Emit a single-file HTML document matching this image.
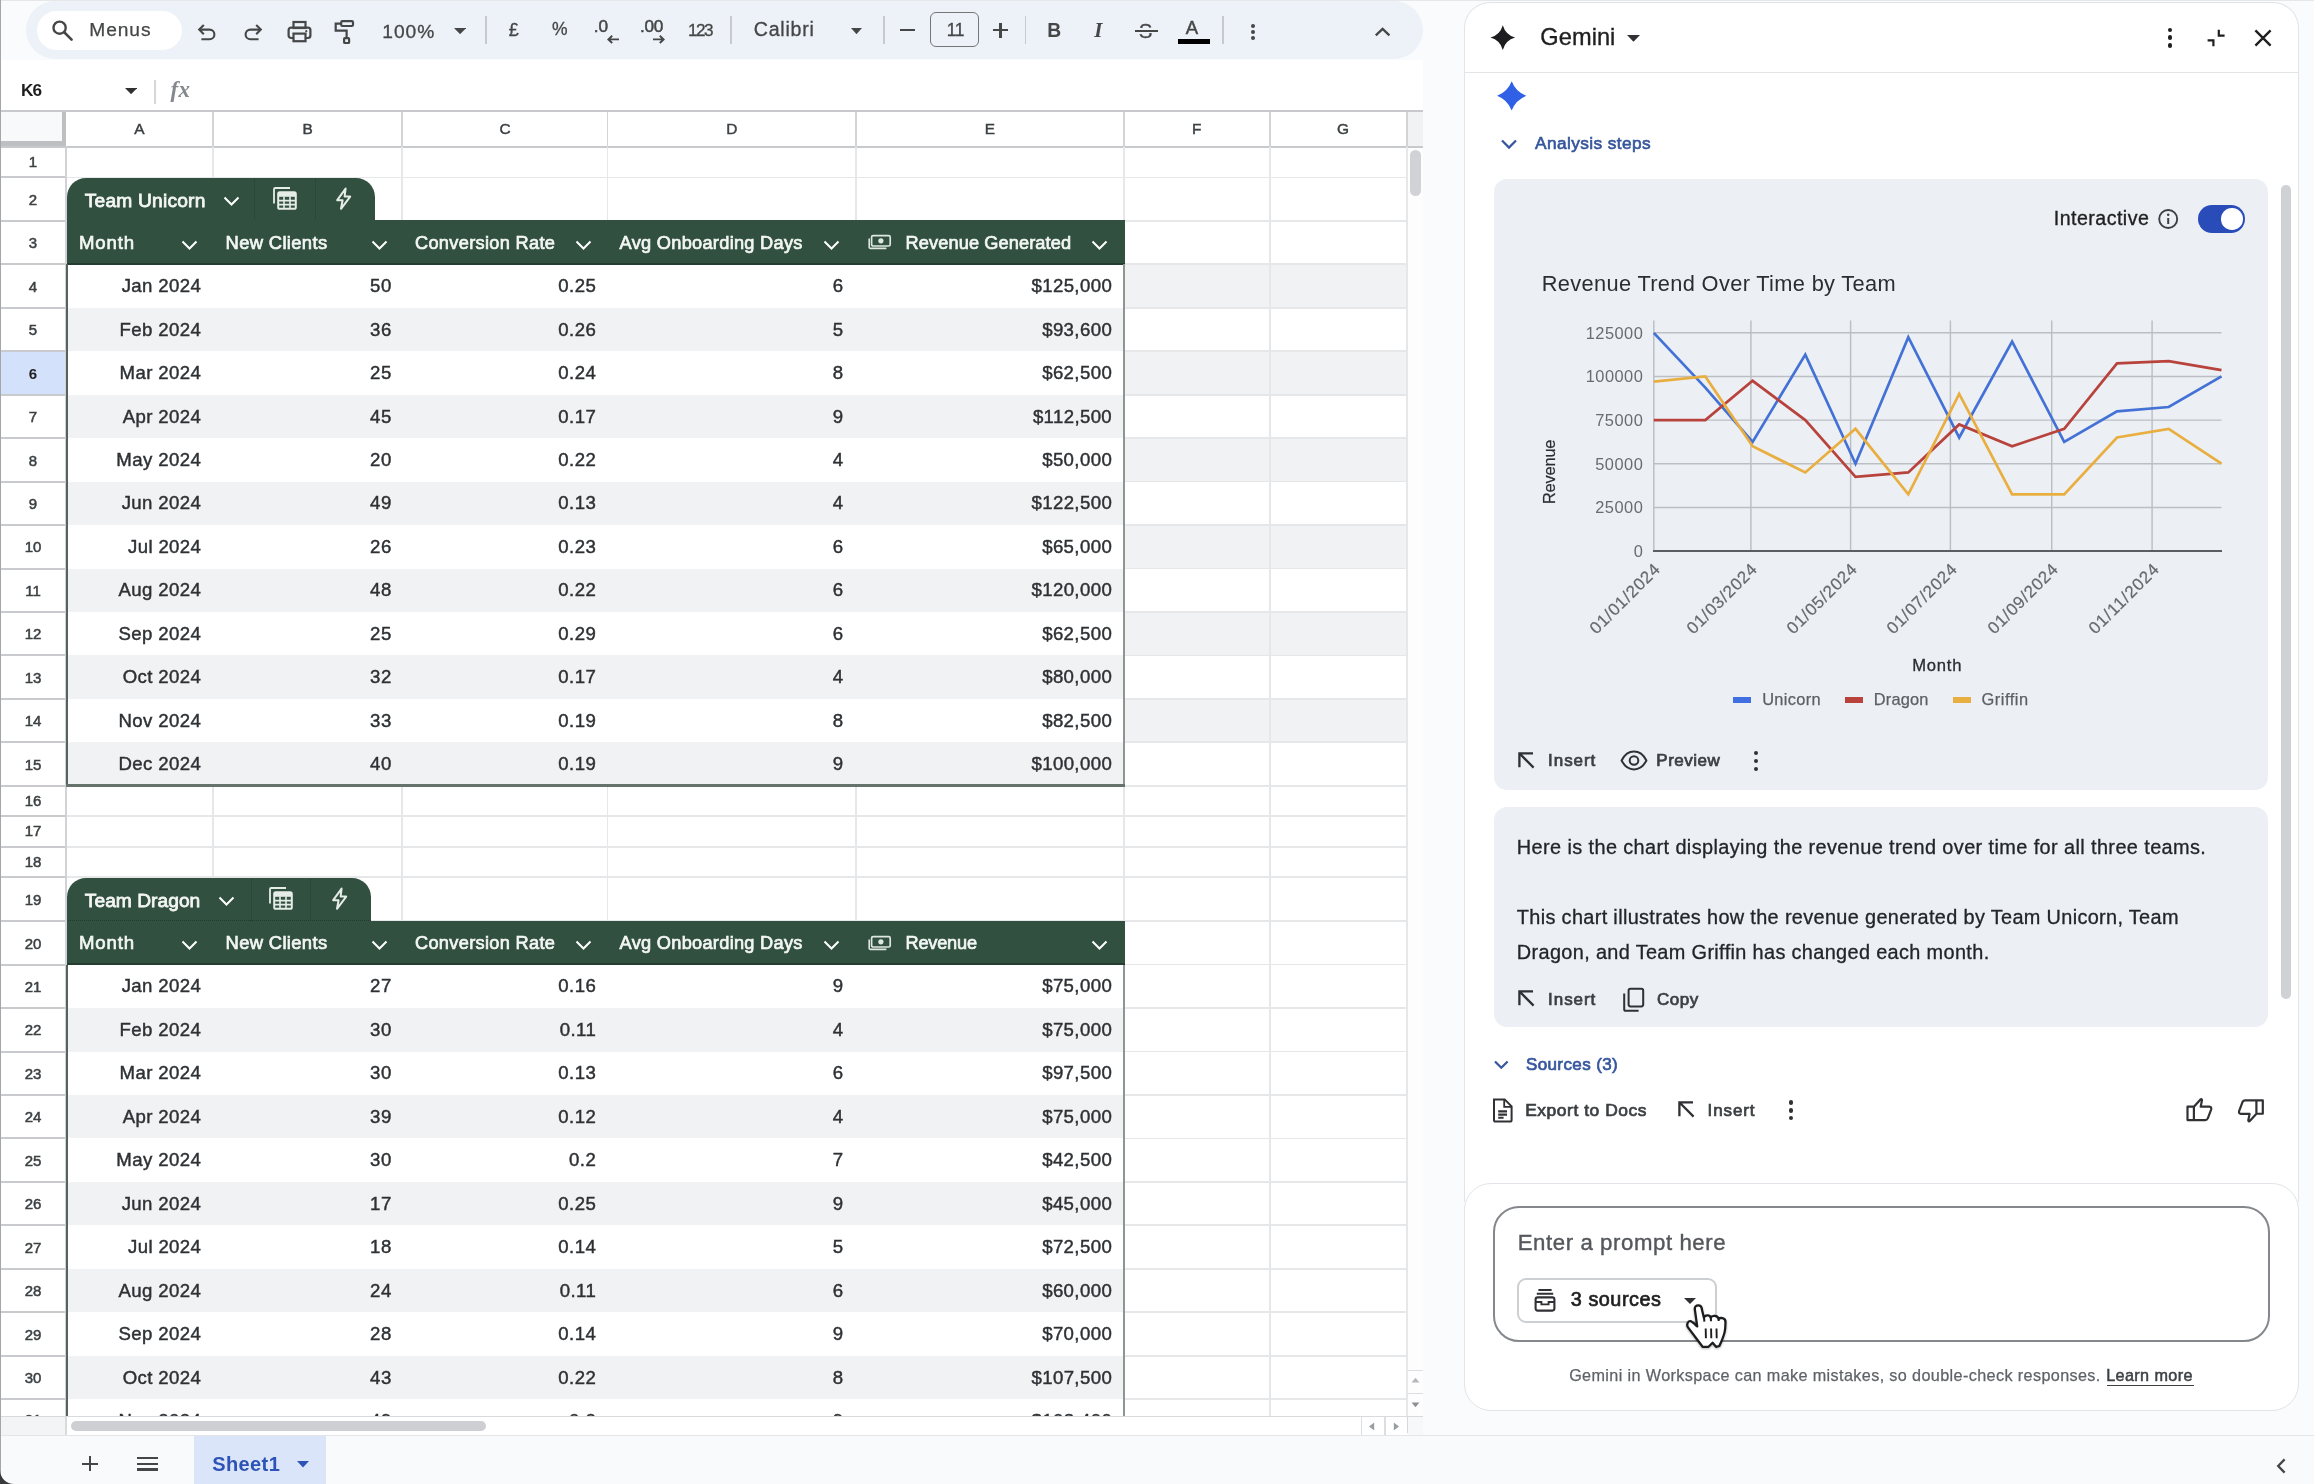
<!DOCTYPE html><html lang="en"><head><meta charset="utf-8"><title>Sheets with Gemini</title><style>html,body{margin:0;padding:0}body{width:2314px;height:1484px;overflow:hidden;position:relative;background:#fafbfc;font-family:"Liberation Sans",sans-serif}
#app{position:absolute;left:0;top:0;width:2314px;height:1484px;overflow:hidden;will-change:transform;transform:translateZ(0)}.b{position:absolute;display:block}.t{position:absolute;white-space:nowrap;display:block}</style></head><body><div id="app">
<div class="b" style="left:0.00px;top:0.00px;width:2314.00px;height:1484.00px;background:#fafbfc;"></div>
<div class="b" style="left:0.00px;top:60.00px;width:1423.00px;height:1356.00px;background:#ffffff;"></div>
<div class="b" style="left:0.00px;top:0.00px;width:2314.00px;height:1.20px;background:#e6e7e9;"></div>
<div class="b" style="left:26.00px;top:1.00px;width:1397.00px;height:58.00px;background:#edf1f8;border-radius:29px;"></div>
<div class="b" style="left:37.00px;top:10.50px;width:144.50px;height:39.50px;background:#ffffff;border-radius:20px;"></div>
<svg class="b" style="left:48.00px;top:16.00px;" width="30" height="30" viewBox="0 0 30 30"><circle cx="11.6" cy="11.7" r="6.1" fill="none" stroke="#444746" stroke-width="2.4"/><path d="M16.2 16.3 L23.6 23.6" stroke="#444746" stroke-width="2.6" stroke-linecap="round"/></svg>
<span class="t" style="left:89.23px;top:20.05px;font-size:19.20px;line-height:19.20px;color:#444746;letter-spacing:0.943px;-webkit-text-stroke:0.25px #444746;">Menus</span>
<svg class="b" style="left:195.00px;top:21.00px;" width="26" height="26" viewBox="0 0 26 26"><path d="M4.6 8.6 H14.6 a4.8 4.8 0 0 1 0 9.6 H6.4" fill="none" stroke="#444746" stroke-width="2.1"/><path d="M8.8 4 L4.2 8.6 L8.8 13.2" fill="none" stroke="#444746" stroke-width="2.1"/></svg>
<svg class="b" style="left:239.60px;top:21.00px;" width="26" height="26" viewBox="0 0 26 26"><path d="M20.4 8.6 H10.4 a4.8 4.8 0 0 0 0 9.6 H18.6" fill="none" stroke="#444746" stroke-width="2.1"/><path d="M16.2 4 L20.8 8.6 L16.2 13.2" fill="none" stroke="#444746" stroke-width="2.1"/></svg>
<svg class="b" style="left:286.00px;top:19.00px;" width="28" height="26" viewBox="0 0 28 26"><rect x="7.5" y="3" width="12" height="6" fill="none" stroke="#444746" stroke-width="2.2"/><rect x="2.6" y="8.6" width="21.8" height="10.4" rx="2.5" fill="none" stroke="#444746" stroke-width="2.2"/><rect x="7.5" y="14.6" width="12" height="7.6" fill="#edf1f8" stroke="#444746" stroke-width="2.2"/><circle cx="20.3" cy="12.2" r="1.1" fill="#444746"/></svg>
<svg class="b" style="left:331.00px;top:17.00px;" width="26" height="30" viewBox="0 0 26 30"><rect x="10.2" y="4.2" width="11.8" height="4.8" rx="1.2" fill="none" stroke="#444746" stroke-width="2.2"/><path d="M10 6.6 H4.7 V13.6 H15.6 V20.6" fill="none" stroke="#444746" stroke-width="2.2"/><rect x="13.1" y="21.2" width="5" height="4.8" rx="0.8" fill="none" stroke="#444746" stroke-width="2.2"/></svg>
<span class="t" style="left:382.23px;top:22.15px;font-size:19.20px;line-height:19.20px;color:#444746;letter-spacing:1.031px;-webkit-text-stroke:0.3px #444746;">100%</span>
<svg class="b" style="left:454.10px;top:27.60px;" width="12.2" height="6.2" viewBox="0 0 12.2 6.2"><path d="M0 0 H12.2 L6.1 6.2 Z" fill="#444746"/></svg>
<div class="b" style="left:484.90px;top:15.50px;width:1.80px;height:28.50px;background:#c7c9cc;"></div>
<span class="t" style="left:508.78px;top:21.06px;font-size:18.00px;line-height:18.00px;color:#444746;-webkit-text-stroke:0.3px #444746;">£</span>
<span class="t" style="left:552.00px;top:21.49px;font-size:17.50px;line-height:17.50px;color:#444746;-webkit-text-stroke:0.3px #444746;">%</span>
<span class="t" style="left:593.71px;top:18.24px;font-size:17.20px;line-height:17.20px;color:#444746;-webkit-text-stroke:0.5px #444746;">.0</span>
<svg class="b" style="left:606.00px;top:34.50px;" width="14" height="9" viewBox="0 0 14 9"><path d="M13 4.4 H2.5 M6.2 0.8 L2.4 4.4 L6.2 8" fill="none" stroke="#444746" stroke-width="1.9"/></svg>
<span class="t" style="left:639.91px;top:18.24px;font-size:17.20px;line-height:17.20px;color:#444746;letter-spacing:-0.205px;-webkit-text-stroke:0.5px #444746;">.00</span>
<svg class="b" style="left:652.00px;top:34.50px;" width="14" height="9" viewBox="0 0 14 9"><path d="M1 4.4 H11.5 M7.8 0.8 L11.6 4.4 L7.8 8" fill="none" stroke="#444746" stroke-width="1.9"/></svg>
<span class="t" style="left:687.91px;top:21.74px;font-size:17.20px;line-height:17.20px;color:#444746;letter-spacing:-1.549px;-webkit-text-stroke:0.3px #444746;">123</span>
<div class="b" style="left:730.10px;top:15.50px;width:1.80px;height:28.50px;background:#c7c9cc;"></div>
<span class="t" style="left:753.82px;top:19.71px;font-size:19.60px;line-height:19.60px;color:#444746;letter-spacing:0.742px;-webkit-text-stroke:0.3px #444746;">Calibri</span>
<svg class="b" style="left:851.00px;top:27.60px;" width="11" height="6.2" viewBox="0 0 11 6.2"><path d="M0 0 H11 L5.5 6.2 Z" fill="#444746"/></svg>
<div class="b" style="left:883.30px;top:15.50px;width:1.80px;height:28.50px;background:#c7c9cc;"></div>
<div class="b" style="left:899.80px;top:29.20px;width:15.50px;height:2.30px;background:#444746;"></div>
<div class="b" style="left:930.00px;top:12.40px;width:49.30px;height:34.30px;border:1.6px solid #747775;border-radius:6px;box-sizing:border-box;"></div>
<span class="t" style="left:946.80px;top:21.69px;font-size:17.50px;line-height:17.50px;color:#444746;letter-spacing:-0.567px;-webkit-text-stroke:0.3px #444746;">11</span>
<div class="b" style="left:993.10px;top:29.20px;width:14.80px;height:2.30px;background:#444746;"></div>
<div class="b" style="left:999.40px;top:22.90px;width:2.30px;height:14.80px;background:#444746;"></div>
<div class="b" style="left:1024.70px;top:15.50px;width:1.80px;height:28.50px;background:#c7c9cc;"></div>
<span class="t" style="left:1047.13px;top:20.86px;font-size:19.30px;line-height:19.30px;color:#444746;font-weight:700;">B</span>
<span class="t" style="left:1094.16px;top:19.62px;font-size:21.00px;line-height:21.00px;color:#444746;font-weight:700;font-style:italic;font-family:'Liberation Serif',serif;">I</span>
<span class="t" style="left:1138.68px;top:21.45px;font-size:20.50px;line-height:20.50px;color:#444746;-webkit-text-stroke:0.3px #444746;">S</span>
<div class="b" style="left:1134.50px;top:29.60px;width:23.40px;height:2.20px;background:#444746;"></div>
<div class="b" style="left:1139.00px;top:27.60px;width:15.00px;height:2.00px;background:#edf1f8;"></div>
<div class="b" style="left:1139.00px;top:31.80px;width:15.00px;height:1.60px;background:#edf1f8;"></div>
<span class="t" style="left:1185.86px;top:18.94px;font-size:18.50px;line-height:18.50px;color:#444746;-webkit-text-stroke:0.5px #444746;">A</span>
<div class="b" style="left:1177.70px;top:38.90px;width:32.80px;height:5.20px;background:#000000;"></div>
<div class="b" style="left:1222.20px;top:15.50px;width:1.80px;height:28.50px;background:#c7c9cc;"></div>
<div class="b" style="left:1250.80px;top:23.50px;width:4.20px;height:4.20px;background:#444746;border-radius:50%;"></div>
<div class="b" style="left:1250.80px;top:29.90px;width:4.20px;height:4.20px;background:#444746;border-radius:50%;"></div>
<div class="b" style="left:1250.80px;top:36.30px;width:4.20px;height:4.20px;background:#444746;border-radius:50%;"></div>
<svg class="b" style="left:1373.00px;top:26.00px;" width="20" height="12" viewBox="0 0 20 12"><path d="M2.8 9.4 L9.6 2.8 L16.4 9.4" fill="none" stroke="#444746" stroke-width="2.3"/></svg>
<span class="t" style="left:21.11px;top:81.94px;font-size:17.20px;line-height:17.20px;color:#1f1f1f;letter-spacing:-0.988px;font-weight:700;">K6</span>
<svg class="b" style="left:125.20px;top:87.90px;" width="12.2" height="6.2" viewBox="0 0 12.2 6.2"><path d="M0 0 H12.2 L6.1 6.2 Z" fill="#303030"/></svg>
<div class="b" style="left:154.40px;top:80.00px;width:1.80px;height:24.00px;background:#d5d7da;"></div>
<span class="t" style="left:170.58px;top:77.83px;font-size:23.00px;line-height:23.00px;color:#85888c;font-weight:700;font-style:italic;font-family:'Liberation Serif',serif;letter-spacing:0.3px;">fx</span>
<div class="b" style="left:0.00px;top:111.00px;width:1423.00px;height:36.00px;background:#ffffff;"></div>
<div class="b" style="left:1407.60px;top:111.50px;width:15.40px;height:35.00px;background:#f1f2f4;"></div>
<div class="b" style="left:0.00px;top:112.00px;width:66.00px;height:34.80px;background:#f8f9fa;"></div>
<div class="b" style="left:61.50px;top:112.00px;width:4.80px;height:35.00px;background:#bdbfc2;"></div>
<div class="b" style="left:0.00px;top:141.00px;width:66.30px;height:6.00px;background:#bdbfc2;"></div>
<div class="b" style="left:0.00px;top:110.20px;width:1423.00px;height:1.80px;background:#c7c9cc;"></div>
<div class="b" style="left:1124.00px;top:264.31px;width:282.80px;height:43.46px;background:#f0f2f4;"></div>
<div class="b" style="left:1124.00px;top:351.23px;width:282.80px;height:43.46px;background:#f0f2f4;"></div>
<div class="b" style="left:1124.00px;top:438.14px;width:282.80px;height:43.46px;background:#f0f2f4;"></div>
<div class="b" style="left:1124.00px;top:525.06px;width:282.80px;height:43.46px;background:#f0f2f4;"></div>
<div class="b" style="left:1124.00px;top:611.97px;width:282.80px;height:43.46px;background:#f0f2f4;"></div>
<div class="b" style="left:1124.00px;top:698.88px;width:282.80px;height:43.46px;background:#f0f2f4;"></div>
<div class="b" style="left:0.00px;top:351.23px;width:66.00px;height:43.46px;background:#d4e1fb;"></div>
<div class="b" style="left:0.00px;top:176.40px;width:66.00px;height:2.00px;background:#c8cacd;"></div>
<div class="b" style="left:66.00px;top:176.50px;width:1340.80px;height:1.80px;background:#e5e7e9;"></div>
<div class="b" style="left:0.00px;top:219.86px;width:66.00px;height:2.00px;background:#c8cacd;"></div>
<div class="b" style="left:66.00px;top:219.96px;width:1340.80px;height:1.80px;background:#e5e7e9;"></div>
<div class="b" style="left:0.00px;top:263.31px;width:66.00px;height:2.00px;background:#c8cacd;"></div>
<div class="b" style="left:66.00px;top:263.41px;width:1340.80px;height:1.80px;background:#e5e7e9;"></div>
<div class="b" style="left:0.00px;top:306.77px;width:66.00px;height:2.00px;background:#c8cacd;"></div>
<div class="b" style="left:66.00px;top:306.87px;width:1340.80px;height:1.80px;background:#e5e7e9;"></div>
<div class="b" style="left:0.00px;top:350.23px;width:66.00px;height:2.00px;background:#c8cacd;"></div>
<div class="b" style="left:66.00px;top:350.33px;width:1340.80px;height:1.80px;background:#e5e7e9;"></div>
<div class="b" style="left:0.00px;top:393.69px;width:66.00px;height:2.00px;background:#c8cacd;"></div>
<div class="b" style="left:66.00px;top:393.79px;width:1340.80px;height:1.80px;background:#e5e7e9;"></div>
<div class="b" style="left:0.00px;top:437.14px;width:66.00px;height:2.00px;background:#c8cacd;"></div>
<div class="b" style="left:66.00px;top:437.24px;width:1340.80px;height:1.80px;background:#e5e7e9;"></div>
<div class="b" style="left:0.00px;top:480.60px;width:66.00px;height:2.00px;background:#c8cacd;"></div>
<div class="b" style="left:66.00px;top:480.70px;width:1340.80px;height:1.80px;background:#e5e7e9;"></div>
<div class="b" style="left:0.00px;top:524.06px;width:66.00px;height:2.00px;background:#c8cacd;"></div>
<div class="b" style="left:66.00px;top:524.16px;width:1340.80px;height:1.80px;background:#e5e7e9;"></div>
<div class="b" style="left:0.00px;top:567.51px;width:66.00px;height:2.00px;background:#c8cacd;"></div>
<div class="b" style="left:66.00px;top:567.61px;width:1340.80px;height:1.80px;background:#e5e7e9;"></div>
<div class="b" style="left:0.00px;top:610.97px;width:66.00px;height:2.00px;background:#c8cacd;"></div>
<div class="b" style="left:66.00px;top:611.07px;width:1340.80px;height:1.80px;background:#e5e7e9;"></div>
<div class="b" style="left:0.00px;top:654.43px;width:66.00px;height:2.00px;background:#c8cacd;"></div>
<div class="b" style="left:66.00px;top:654.53px;width:1340.80px;height:1.80px;background:#e5e7e9;"></div>
<div class="b" style="left:0.00px;top:697.88px;width:66.00px;height:2.00px;background:#c8cacd;"></div>
<div class="b" style="left:66.00px;top:697.98px;width:1340.80px;height:1.80px;background:#e5e7e9;"></div>
<div class="b" style="left:0.00px;top:741.34px;width:66.00px;height:2.00px;background:#c8cacd;"></div>
<div class="b" style="left:66.00px;top:741.44px;width:1340.80px;height:1.80px;background:#e5e7e9;"></div>
<div class="b" style="left:0.00px;top:784.80px;width:66.00px;height:2.00px;background:#c8cacd;"></div>
<div class="b" style="left:66.00px;top:784.90px;width:1340.80px;height:1.80px;background:#e5e7e9;"></div>
<div class="b" style="left:0.00px;top:815.30px;width:66.00px;height:2.00px;background:#c8cacd;"></div>
<div class="b" style="left:66.00px;top:815.40px;width:1340.80px;height:1.80px;background:#e5e7e9;"></div>
<div class="b" style="left:0.00px;top:845.80px;width:66.00px;height:2.00px;background:#c8cacd;"></div>
<div class="b" style="left:66.00px;top:845.90px;width:1340.80px;height:1.80px;background:#e5e7e9;"></div>
<div class="b" style="left:0.00px;top:876.30px;width:66.00px;height:2.00px;background:#c8cacd;"></div>
<div class="b" style="left:66.00px;top:876.40px;width:1340.80px;height:1.80px;background:#e5e7e9;"></div>
<div class="b" style="left:0.00px;top:920.00px;width:66.00px;height:2.00px;background:#c8cacd;"></div>
<div class="b" style="left:66.00px;top:920.10px;width:1340.80px;height:1.80px;background:#e5e7e9;"></div>
<div class="b" style="left:0.00px;top:963.60px;width:66.00px;height:2.00px;background:#c8cacd;"></div>
<div class="b" style="left:66.00px;top:963.70px;width:1340.80px;height:1.80px;background:#e5e7e9;"></div>
<div class="b" style="left:0.00px;top:1007.06px;width:66.00px;height:2.00px;background:#c8cacd;"></div>
<div class="b" style="left:66.00px;top:1007.16px;width:1340.80px;height:1.80px;background:#e5e7e9;"></div>
<div class="b" style="left:0.00px;top:1050.51px;width:66.00px;height:2.00px;background:#c8cacd;"></div>
<div class="b" style="left:66.00px;top:1050.61px;width:1340.80px;height:1.80px;background:#e5e7e9;"></div>
<div class="b" style="left:0.00px;top:1093.97px;width:66.00px;height:2.00px;background:#c8cacd;"></div>
<div class="b" style="left:66.00px;top:1094.07px;width:1340.80px;height:1.80px;background:#e5e7e9;"></div>
<div class="b" style="left:0.00px;top:1137.43px;width:66.00px;height:2.00px;background:#c8cacd;"></div>
<div class="b" style="left:66.00px;top:1137.53px;width:1340.80px;height:1.80px;background:#e5e7e9;"></div>
<div class="b" style="left:0.00px;top:1180.89px;width:66.00px;height:2.00px;background:#c8cacd;"></div>
<div class="b" style="left:66.00px;top:1180.99px;width:1340.80px;height:1.80px;background:#e5e7e9;"></div>
<div class="b" style="left:0.00px;top:1224.34px;width:66.00px;height:2.00px;background:#c8cacd;"></div>
<div class="b" style="left:66.00px;top:1224.44px;width:1340.80px;height:1.80px;background:#e5e7e9;"></div>
<div class="b" style="left:0.00px;top:1267.80px;width:66.00px;height:2.00px;background:#c8cacd;"></div>
<div class="b" style="left:66.00px;top:1267.90px;width:1340.80px;height:1.80px;background:#e5e7e9;"></div>
<div class="b" style="left:0.00px;top:1311.26px;width:66.00px;height:2.00px;background:#c8cacd;"></div>
<div class="b" style="left:66.00px;top:1311.36px;width:1340.80px;height:1.80px;background:#e5e7e9;"></div>
<div class="b" style="left:0.00px;top:1354.71px;width:66.00px;height:2.00px;background:#c8cacd;"></div>
<div class="b" style="left:66.00px;top:1354.81px;width:1340.80px;height:1.80px;background:#e5e7e9;"></div>
<div class="b" style="left:0.00px;top:1398.17px;width:66.00px;height:2.00px;background:#c8cacd;"></div>
<div class="b" style="left:66.00px;top:1398.27px;width:1340.80px;height:1.80px;background:#e5e7e9;"></div>
<div class="b" style="left:0.00px;top:146.20px;width:1423.00px;height:1.80px;background:#c7c9cc;"></div>
<div class="b" style="left:65.10px;top:147.00px;width:1.80px;height:1269.50px;background:#d0d2d5;"></div>
<div class="b" style="left:211.90px;top:112.00px;width:1.80px;height:35.00px;background:#d2d4d7;"></div>
<div class="b" style="left:211.90px;top:147.00px;width:1.80px;height:1269.50px;background:#e5e7e9;"></div>
<div class="b" style="left:401.40px;top:112.00px;width:1.80px;height:35.00px;background:#d2d4d7;"></div>
<div class="b" style="left:401.40px;top:147.00px;width:1.80px;height:1269.50px;background:#e5e7e9;"></div>
<div class="b" style="left:606.70px;top:112.00px;width:1.80px;height:35.00px;background:#d2d4d7;"></div>
<div class="b" style="left:606.70px;top:147.00px;width:1.80px;height:1269.50px;background:#e5e7e9;"></div>
<div class="b" style="left:855.00px;top:112.00px;width:1.80px;height:35.00px;background:#d2d4d7;"></div>
<div class="b" style="left:855.00px;top:147.00px;width:1.80px;height:1269.50px;background:#e5e7e9;"></div>
<div class="b" style="left:1122.90px;top:112.00px;width:1.80px;height:35.00px;background:#d2d4d7;"></div>
<div class="b" style="left:1122.90px;top:147.00px;width:1.80px;height:1269.50px;background:#e5e7e9;"></div>
<div class="b" style="left:1268.80px;top:112.00px;width:1.80px;height:35.00px;background:#d2d4d7;"></div>
<div class="b" style="left:1268.80px;top:147.00px;width:1.80px;height:1269.50px;background:#e5e7e9;"></div>
<div class="b" style="left:1405.90px;top:112.00px;width:1.80px;height:35.00px;background:#d2d4d7;"></div>
<div class="b" style="left:1405.90px;top:147.00px;width:1.80px;height:1269.50px;background:#e5e7e9;"></div>
<span class="t" style="left:134.26px;top:121.36px;font-size:15.40px;line-height:15.40px;color:#3c4043;-webkit-text-stroke:0.45px #3c4043;">A</span>
<span class="t" style="left:302.41px;top:121.36px;font-size:15.40px;line-height:15.40px;color:#3c4043;-webkit-text-stroke:0.45px #3c4043;">B</span>
<span class="t" style="left:499.39px;top:121.36px;font-size:15.40px;line-height:15.40px;color:#3c4043;-webkit-text-stroke:0.45px #3c4043;">C</span>
<span class="t" style="left:726.19px;top:121.36px;font-size:15.40px;line-height:15.40px;color:#3c4043;-webkit-text-stroke:0.45px #3c4043;">D</span>
<span class="t" style="left:984.71px;top:121.36px;font-size:15.40px;line-height:15.40px;color:#3c4043;-webkit-text-stroke:0.45px #3c4043;">E</span>
<span class="t" style="left:1192.05px;top:121.36px;font-size:15.40px;line-height:15.40px;color:#3c4043;-webkit-text-stroke:0.45px #3c4043;">F</span>
<span class="t" style="left:1337.01px;top:121.36px;font-size:15.40px;line-height:15.40px;color:#3c4043;-webkit-text-stroke:0.45px #3c4043;">G</span>
<span class="t" style="left:28.83px;top:154.10px;font-size:15.00px;line-height:15.00px;color:#3c4043;-webkit-text-stroke:0.5px #3c4043;">1</span>
<span class="t" style="left:28.83px;top:191.83px;font-size:15.00px;line-height:15.00px;color:#3c4043;-webkit-text-stroke:0.5px #3c4043;">2</span>
<span class="t" style="left:28.83px;top:235.29px;font-size:15.00px;line-height:15.00px;color:#3c4043;-webkit-text-stroke:0.5px #3c4043;">3</span>
<span class="t" style="left:28.83px;top:278.75px;font-size:15.00px;line-height:15.00px;color:#3c4043;-webkit-text-stroke:0.5px #3c4043;">4</span>
<span class="t" style="left:28.83px;top:322.20px;font-size:15.00px;line-height:15.00px;color:#3c4043;-webkit-text-stroke:0.5px #3c4043;">5</span>
<span class="t" style="left:28.83px;top:365.66px;font-size:15.00px;line-height:15.00px;color:#1f1f1f;font-weight:700;">6</span>
<span class="t" style="left:28.83px;top:409.12px;font-size:15.00px;line-height:15.00px;color:#3c4043;-webkit-text-stroke:0.5px #3c4043;">7</span>
<span class="t" style="left:28.83px;top:452.57px;font-size:15.00px;line-height:15.00px;color:#3c4043;-webkit-text-stroke:0.5px #3c4043;">8</span>
<span class="t" style="left:28.83px;top:496.03px;font-size:15.00px;line-height:15.00px;color:#3c4043;-webkit-text-stroke:0.5px #3c4043;">9</span>
<span class="t" style="left:24.66px;top:539.49px;font-size:15.00px;line-height:15.00px;color:#3c4043;-webkit-text-stroke:0.5px #3c4043;">10</span>
<span class="t" style="left:25.21px;top:582.94px;font-size:15.00px;line-height:15.00px;color:#3c4043;-webkit-text-stroke:0.5px #3c4043;">11</span>
<span class="t" style="left:24.66px;top:626.40px;font-size:15.00px;line-height:15.00px;color:#3c4043;-webkit-text-stroke:0.5px #3c4043;">12</span>
<span class="t" style="left:24.66px;top:669.86px;font-size:15.00px;line-height:15.00px;color:#3c4043;-webkit-text-stroke:0.5px #3c4043;">13</span>
<span class="t" style="left:24.66px;top:713.31px;font-size:15.00px;line-height:15.00px;color:#3c4043;-webkit-text-stroke:0.5px #3c4043;">14</span>
<span class="t" style="left:24.66px;top:756.77px;font-size:15.00px;line-height:15.00px;color:#3c4043;-webkit-text-stroke:0.5px #3c4043;">15</span>
<span class="t" style="left:24.66px;top:792.95px;font-size:15.00px;line-height:15.00px;color:#3c4043;-webkit-text-stroke:0.5px #3c4043;">16</span>
<span class="t" style="left:24.66px;top:823.45px;font-size:15.00px;line-height:15.00px;color:#3c4043;-webkit-text-stroke:0.5px #3c4043;">17</span>
<span class="t" style="left:24.66px;top:853.95px;font-size:15.00px;line-height:15.00px;color:#3c4043;-webkit-text-stroke:0.5px #3c4043;">18</span>
<span class="t" style="left:24.66px;top:891.85px;font-size:15.00px;line-height:15.00px;color:#3c4043;-webkit-text-stroke:0.5px #3c4043;">19</span>
<span class="t" style="left:24.66px;top:935.50px;font-size:15.00px;line-height:15.00px;color:#3c4043;-webkit-text-stroke:0.5px #3c4043;">20</span>
<span class="t" style="left:24.66px;top:979.03px;font-size:15.00px;line-height:15.00px;color:#3c4043;-webkit-text-stroke:0.5px #3c4043;">21</span>
<span class="t" style="left:24.66px;top:1022.49px;font-size:15.00px;line-height:15.00px;color:#3c4043;-webkit-text-stroke:0.5px #3c4043;">22</span>
<span class="t" style="left:24.66px;top:1065.95px;font-size:15.00px;line-height:15.00px;color:#3c4043;-webkit-text-stroke:0.5px #3c4043;">23</span>
<span class="t" style="left:24.66px;top:1109.40px;font-size:15.00px;line-height:15.00px;color:#3c4043;-webkit-text-stroke:0.5px #3c4043;">24</span>
<span class="t" style="left:24.66px;top:1152.86px;font-size:15.00px;line-height:15.00px;color:#3c4043;-webkit-text-stroke:0.5px #3c4043;">25</span>
<span class="t" style="left:24.66px;top:1196.32px;font-size:15.00px;line-height:15.00px;color:#3c4043;-webkit-text-stroke:0.5px #3c4043;">26</span>
<span class="t" style="left:24.66px;top:1239.77px;font-size:15.00px;line-height:15.00px;color:#3c4043;-webkit-text-stroke:0.5px #3c4043;">27</span>
<span class="t" style="left:24.66px;top:1283.23px;font-size:15.00px;line-height:15.00px;color:#3c4043;-webkit-text-stroke:0.5px #3c4043;">28</span>
<span class="t" style="left:24.66px;top:1326.69px;font-size:15.00px;line-height:15.00px;color:#3c4043;-webkit-text-stroke:0.5px #3c4043;">29</span>
<span class="t" style="left:24.66px;top:1370.14px;font-size:15.00px;line-height:15.00px;color:#3c4043;-webkit-text-stroke:0.5px #3c4043;">30</span>
<span class="t" style="left:24.66px;top:1412.10px;font-size:15.00px;line-height:15.00px;color:#3c4043;-webkit-text-stroke:0.5px #3c4043;">31</span>
<div class="b" style="left:67.30px;top:178.00px;width:307.70px;height:44.46px;background:#31503f;border-radius:19px 19px 0 0;"></div>
<span class="t" style="left:84.83px;top:190.75px;font-size:19.20px;line-height:19.20px;color:#f3f6f4;letter-spacing:0.196px;-webkit-text-stroke:0.8px #f3f6f4;">Team Unicorn</span>
<svg class="b" style="left:222.70px;top:195.90px;" width="17" height="11" viewBox="0 0 17 11"><path d="M1.5 1.5 L8.5 8.5 L15.5 1.5" fill="none" stroke="#ffffff" stroke-width="2"/></svg>
<div class="b" style="left:253.80px;top:179.40px;width:1.40px;height:41.46px;border-left:1.4px dotted #26402f;"></div>
<div class="b" style="left:314.60px;top:179.40px;width:1.40px;height:41.46px;border-left:1.4px dotted #26402f;"></div>
<div class="b" style="left:68.00px;top:220.06px;width:307.00px;height:1.40px;border-top:1.5px dotted #223a2c;"></div>
<svg class="b" style="left:272.00px;top:186.40px;" width="26" height="25" viewBox="0 0 26 25"><path d="M2 17.5 V3.2 a1.2 1.2 0 0 1 1.2 -1.2 H18" fill="none" stroke="#e6ece8" stroke-width="1.8"/><rect x="6.2" y="6.2" width="17.6" height="16.6" rx="1.6" fill="none" stroke="#e6ece8" stroke-width="2"/><path d="M6.2 14.6 H23.8 M6.2 18.6 H23.8 M12 10.6 V22.8 M18 10.6 V22.8" stroke="#e6ece8" stroke-width="1.6" fill="none"/><rect x="6.2" y="6.2" width="17.6" height="4.6" fill="#e6ece8"/></svg>
<svg class="b" style="left:334.00px;top:187.40px;" width="20" height="24" viewBox="0 0 20 24"><path d="M11.6 1.6 L3.2 13.2 H8.6 L7 21.8 L16.2 9.6 H10.6 Z" fill="none" stroke="#e6ece8" stroke-width="2" stroke-linejoin="round"/></svg>
<div class="b" style="left:67.30px;top:220.36px;width:1057.30px;height:44.46px;background:#31503f;"></div>
<div class="b" style="left:67.30px;top:262.71px;width:1057.30px;height:2.20px;background:#243d30;"></div>
<span class="t" style="left:79.06px;top:233.61px;font-size:18.60px;line-height:18.60px;color:#f3f6f4;letter-spacing:0.826px;-webkit-text-stroke:0.7px #f3f6f4;">Month</span>
<svg class="b" style="left:180.80px;top:239.56px;" width="17" height="11" viewBox="0 0 17 11"><path d="M1.5 1.5 L8.5 8.5 L15.5 1.5" fill="none" stroke="#ffffff" stroke-width="2"/></svg>
<span class="t" style="left:225.56px;top:233.78px;font-size:18.40px;line-height:18.40px;color:#f3f6f4;letter-spacing:0.343px;-webkit-text-stroke:0.7px #f3f6f4;">New Clients</span>
<svg class="b" style="left:370.80px;top:239.56px;" width="17" height="11" viewBox="0 0 17 11"><path d="M1.5 1.5 L8.5 8.5 L15.5 1.5" fill="none" stroke="#ffffff" stroke-width="2"/></svg>
<span class="t" style="left:414.97px;top:233.95px;font-size:18.20px;line-height:18.20px;color:#f3f6f4;letter-spacing:0.317px;-webkit-text-stroke:0.7px #f3f6f4;">Conversion Rate</span>
<svg class="b" style="left:575.10px;top:239.56px;" width="17" height="11" viewBox="0 0 17 11"><path d="M1.5 1.5 L8.5 8.5 L15.5 1.5" fill="none" stroke="#ffffff" stroke-width="2"/></svg>
<span class="t" style="left:619.57px;top:233.95px;font-size:18.20px;line-height:18.20px;color:#f3f6f4;letter-spacing:0.293px;-webkit-text-stroke:0.7px #f3f6f4;">Avg Onboarding Days</span>
<svg class="b" style="left:822.70px;top:239.56px;" width="17" height="11" viewBox="0 0 17 11"><path d="M1.5 1.5 L8.5 8.5 L15.5 1.5" fill="none" stroke="#ffffff" stroke-width="2"/></svg>
<svg class="b" style="left:867.50px;top:234.36px;" width="24" height="16" viewBox="0 0 24 16"><rect x="3.6" y="1.6" width="18.6" height="10.4" rx="1.6" fill="none" stroke="#dfe7e2" stroke-width="1.7"/><path d="M1.2 4.6 V13.2 a1.2 1.2 0 0 0 1.2 1.2 H18.4" fill="none" stroke="#dfe7e2" stroke-width="1.6"/><circle cx="12.9" cy="6.8" r="2.6" fill="#dfe7e2"/></svg>
<span class="t" style="left:905.57px;top:233.95px;font-size:18.20px;line-height:18.20px;color:#f3f6f4;letter-spacing:0.105px;-webkit-text-stroke:0.7px #f3f6f4;">Revenue Generated</span>
<svg class="b" style="left:1091.40px;top:239.56px;" width="17" height="11" viewBox="0 0 17 11"><path d="M1.5 1.5 L8.5 8.5 L15.5 1.5" fill="none" stroke="#ffffff" stroke-width="2"/></svg>
<div class="b" style="left:68.20px;top:264.71px;width:1054.80px;height:43.46px;background:#ffffff;"></div>
<span class="t" style="left:121.64px;top:277.17px;font-size:18.60px;line-height:18.60px;color:#2e3134;letter-spacing:0.383px;-webkit-text-stroke:0.45px #2e3134;">Jan 2024</span>
<span class="t" style="left:370.04px;top:277.17px;font-size:18.60px;line-height:18.60px;color:#2e3134;letter-spacing:0.724px;-webkit-text-stroke:0.45px #2e3134;">50</span>
<span class="t" style="left:558.29px;top:277.17px;font-size:18.60px;line-height:18.60px;color:#2e3134;letter-spacing:0.422px;-webkit-text-stroke:0.45px #2e3134;">0.25</span>
<span class="t" style="left:832.81px;top:277.17px;font-size:18.60px;line-height:18.60px;color:#2e3134;-webkit-text-stroke:0.45px #2e3134;">6</span>
<span class="t" style="left:1031.46px;top:277.17px;font-size:18.60px;line-height:18.60px;color:#2e3134;letter-spacing:0.388px;-webkit-text-stroke:0.45px #2e3134;">$125,000</span>
<div class="b" style="left:68.20px;top:307.77px;width:1054.80px;height:43.46px;background:#f0f2f4;"></div>
<span class="t" style="left:119.51px;top:320.63px;font-size:18.60px;line-height:18.60px;color:#2e3134;letter-spacing:0.393px;-webkit-text-stroke:0.45px #2e3134;">Feb 2024</span>
<span class="t" style="left:370.04px;top:320.63px;font-size:18.60px;line-height:18.60px;color:#2e3134;letter-spacing:0.724px;-webkit-text-stroke:0.45px #2e3134;">36</span>
<span class="t" style="left:558.29px;top:320.63px;font-size:18.60px;line-height:18.60px;color:#2e3134;letter-spacing:0.422px;-webkit-text-stroke:0.45px #2e3134;">0.26</span>
<span class="t" style="left:832.81px;top:320.63px;font-size:18.60px;line-height:18.60px;color:#2e3134;-webkit-text-stroke:0.45px #2e3134;">5</span>
<span class="t" style="left:1042.17px;top:320.63px;font-size:18.60px;line-height:18.60px;color:#2e3134;letter-spacing:0.392px;-webkit-text-stroke:0.45px #2e3134;">$93,600</span>
<div class="b" style="left:68.20px;top:351.23px;width:1054.80px;height:43.46px;background:#ffffff;"></div>
<span class="t" style="left:119.53px;top:364.08px;font-size:18.60px;line-height:18.60px;color:#2e3134;letter-spacing:0.393px;-webkit-text-stroke:0.45px #2e3134;">Mar 2024</span>
<span class="t" style="left:370.04px;top:364.08px;font-size:18.60px;line-height:18.60px;color:#2e3134;letter-spacing:0.724px;-webkit-text-stroke:0.45px #2e3134;">25</span>
<span class="t" style="left:558.29px;top:364.08px;font-size:18.60px;line-height:18.60px;color:#2e3134;letter-spacing:0.422px;-webkit-text-stroke:0.45px #2e3134;">0.24</span>
<span class="t" style="left:832.81px;top:364.08px;font-size:18.60px;line-height:18.60px;color:#2e3134;-webkit-text-stroke:0.45px #2e3134;">8</span>
<span class="t" style="left:1042.17px;top:364.08px;font-size:18.60px;line-height:18.60px;color:#2e3134;letter-spacing:0.392px;-webkit-text-stroke:0.45px #2e3134;">$62,500</span>
<div class="b" style="left:68.20px;top:394.69px;width:1054.80px;height:43.46px;background:#f0f2f4;"></div>
<span class="t" style="left:122.72px;top:407.54px;font-size:18.60px;line-height:18.60px;color:#2e3134;letter-spacing:0.377px;-webkit-text-stroke:0.45px #2e3134;">Apr 2024</span>
<span class="t" style="left:370.04px;top:407.54px;font-size:18.60px;line-height:18.60px;color:#2e3134;letter-spacing:0.724px;-webkit-text-stroke:0.45px #2e3134;">45</span>
<span class="t" style="left:558.29px;top:407.54px;font-size:18.60px;line-height:18.60px;color:#2e3134;letter-spacing:0.422px;-webkit-text-stroke:0.45px #2e3134;">0.17</span>
<span class="t" style="left:832.81px;top:407.54px;font-size:18.60px;line-height:18.60px;color:#2e3134;-webkit-text-stroke:0.45px #2e3134;">9</span>
<span class="t" style="left:1032.89px;top:407.54px;font-size:18.60px;line-height:18.60px;color:#2e3134;letter-spacing:0.381px;-webkit-text-stroke:0.45px #2e3134;">$112,500</span>
<div class="b" style="left:68.20px;top:438.14px;width:1054.80px;height:43.46px;background:#ffffff;"></div>
<span class="t" style="left:116.31px;top:451.00px;font-size:18.60px;line-height:18.60px;color:#2e3134;letter-spacing:0.408px;-webkit-text-stroke:0.45px #2e3134;">May 2024</span>
<span class="t" style="left:370.04px;top:451.00px;font-size:18.60px;line-height:18.60px;color:#2e3134;letter-spacing:0.724px;-webkit-text-stroke:0.45px #2e3134;">20</span>
<span class="t" style="left:558.29px;top:451.00px;font-size:18.60px;line-height:18.60px;color:#2e3134;letter-spacing:0.422px;-webkit-text-stroke:0.45px #2e3134;">0.22</span>
<span class="t" style="left:832.81px;top:451.00px;font-size:18.60px;line-height:18.60px;color:#2e3134;-webkit-text-stroke:0.45px #2e3134;">4</span>
<span class="t" style="left:1042.17px;top:451.00px;font-size:18.60px;line-height:18.60px;color:#2e3134;letter-spacing:0.392px;-webkit-text-stroke:0.45px #2e3134;">$50,000</span>
<div class="b" style="left:68.20px;top:481.60px;width:1054.80px;height:43.46px;background:#f0f2f4;"></div>
<span class="t" style="left:121.64px;top:494.45px;font-size:18.60px;line-height:18.60px;color:#2e3134;letter-spacing:0.383px;-webkit-text-stroke:0.45px #2e3134;">Jun 2024</span>
<span class="t" style="left:370.04px;top:494.45px;font-size:18.60px;line-height:18.60px;color:#2e3134;letter-spacing:0.724px;-webkit-text-stroke:0.45px #2e3134;">49</span>
<span class="t" style="left:558.29px;top:494.45px;font-size:18.60px;line-height:18.60px;color:#2e3134;letter-spacing:0.422px;-webkit-text-stroke:0.45px #2e3134;">0.13</span>
<span class="t" style="left:832.81px;top:494.45px;font-size:18.60px;line-height:18.60px;color:#2e3134;-webkit-text-stroke:0.45px #2e3134;">4</span>
<span class="t" style="left:1031.46px;top:494.45px;font-size:18.60px;line-height:18.60px;color:#2e3134;letter-spacing:0.388px;-webkit-text-stroke:0.45px #2e3134;">$122,500</span>
<div class="b" style="left:68.20px;top:525.06px;width:1054.80px;height:43.46px;background:#ffffff;"></div>
<span class="t" style="left:128.07px;top:537.91px;font-size:18.60px;line-height:18.60px;color:#2e3134;letter-spacing:0.352px;-webkit-text-stroke:0.45px #2e3134;">Jul 2024</span>
<span class="t" style="left:370.04px;top:537.91px;font-size:18.60px;line-height:18.60px;color:#2e3134;letter-spacing:0.724px;-webkit-text-stroke:0.45px #2e3134;">26</span>
<span class="t" style="left:558.29px;top:537.91px;font-size:18.60px;line-height:18.60px;color:#2e3134;letter-spacing:0.422px;-webkit-text-stroke:0.45px #2e3134;">0.23</span>
<span class="t" style="left:832.81px;top:537.91px;font-size:18.60px;line-height:18.60px;color:#2e3134;-webkit-text-stroke:0.45px #2e3134;">6</span>
<span class="t" style="left:1042.17px;top:537.91px;font-size:18.60px;line-height:18.60px;color:#2e3134;letter-spacing:0.392px;-webkit-text-stroke:0.45px #2e3134;">$65,000</span>
<div class="b" style="left:68.20px;top:568.51px;width:1054.80px;height:43.46px;background:#f0f2f4;"></div>
<span class="t" style="left:118.43px;top:581.37px;font-size:18.60px;line-height:18.60px;color:#2e3134;letter-spacing:0.398px;-webkit-text-stroke:0.45px #2e3134;">Aug 2024</span>
<span class="t" style="left:370.04px;top:581.37px;font-size:18.60px;line-height:18.60px;color:#2e3134;letter-spacing:0.724px;-webkit-text-stroke:0.45px #2e3134;">48</span>
<span class="t" style="left:558.29px;top:581.37px;font-size:18.60px;line-height:18.60px;color:#2e3134;letter-spacing:0.422px;-webkit-text-stroke:0.45px #2e3134;">0.22</span>
<span class="t" style="left:832.81px;top:581.37px;font-size:18.60px;line-height:18.60px;color:#2e3134;-webkit-text-stroke:0.45px #2e3134;">6</span>
<span class="t" style="left:1031.46px;top:581.37px;font-size:18.60px;line-height:18.60px;color:#2e3134;letter-spacing:0.388px;-webkit-text-stroke:0.45px #2e3134;">$120,000</span>
<div class="b" style="left:68.20px;top:611.97px;width:1054.80px;height:43.46px;background:#ffffff;"></div>
<span class="t" style="left:118.43px;top:624.83px;font-size:18.60px;line-height:18.60px;color:#2e3134;letter-spacing:0.398px;-webkit-text-stroke:0.45px #2e3134;">Sep 2024</span>
<span class="t" style="left:370.04px;top:624.83px;font-size:18.60px;line-height:18.60px;color:#2e3134;letter-spacing:0.724px;-webkit-text-stroke:0.45px #2e3134;">25</span>
<span class="t" style="left:558.29px;top:624.83px;font-size:18.60px;line-height:18.60px;color:#2e3134;letter-spacing:0.422px;-webkit-text-stroke:0.45px #2e3134;">0.29</span>
<span class="t" style="left:832.81px;top:624.83px;font-size:18.60px;line-height:18.60px;color:#2e3134;-webkit-text-stroke:0.45px #2e3134;">6</span>
<span class="t" style="left:1042.17px;top:624.83px;font-size:18.60px;line-height:18.60px;color:#2e3134;letter-spacing:0.392px;-webkit-text-stroke:0.45px #2e3134;">$62,500</span>
<div class="b" style="left:68.20px;top:655.43px;width:1054.80px;height:43.46px;background:#f0f2f4;"></div>
<span class="t" style="left:122.74px;top:668.28px;font-size:18.60px;line-height:18.60px;color:#2e3134;letter-spacing:0.377px;-webkit-text-stroke:0.45px #2e3134;">Oct 2024</span>
<span class="t" style="left:370.04px;top:668.28px;font-size:18.60px;line-height:18.60px;color:#2e3134;letter-spacing:0.724px;-webkit-text-stroke:0.45px #2e3134;">32</span>
<span class="t" style="left:558.29px;top:668.28px;font-size:18.60px;line-height:18.60px;color:#2e3134;letter-spacing:0.422px;-webkit-text-stroke:0.45px #2e3134;">0.17</span>
<span class="t" style="left:832.81px;top:668.28px;font-size:18.60px;line-height:18.60px;color:#2e3134;-webkit-text-stroke:0.45px #2e3134;">4</span>
<span class="t" style="left:1042.17px;top:668.28px;font-size:18.60px;line-height:18.60px;color:#2e3134;letter-spacing:0.392px;-webkit-text-stroke:0.45px #2e3134;">$80,000</span>
<div class="b" style="left:68.20px;top:698.88px;width:1054.80px;height:43.46px;background:#ffffff;"></div>
<span class="t" style="left:118.45px;top:711.74px;font-size:18.60px;line-height:18.60px;color:#2e3134;letter-spacing:0.398px;-webkit-text-stroke:0.45px #2e3134;">Nov 2024</span>
<span class="t" style="left:370.04px;top:711.74px;font-size:18.60px;line-height:18.60px;color:#2e3134;letter-spacing:0.724px;-webkit-text-stroke:0.45px #2e3134;">33</span>
<span class="t" style="left:558.29px;top:711.74px;font-size:18.60px;line-height:18.60px;color:#2e3134;letter-spacing:0.422px;-webkit-text-stroke:0.45px #2e3134;">0.19</span>
<span class="t" style="left:832.81px;top:711.74px;font-size:18.60px;line-height:18.60px;color:#2e3134;-webkit-text-stroke:0.45px #2e3134;">8</span>
<span class="t" style="left:1042.17px;top:711.74px;font-size:18.60px;line-height:18.60px;color:#2e3134;letter-spacing:0.392px;-webkit-text-stroke:0.45px #2e3134;">$82,500</span>
<div class="b" style="left:68.20px;top:742.34px;width:1054.80px;height:43.46px;background:#f0f2f4;"></div>
<span class="t" style="left:118.45px;top:755.20px;font-size:18.60px;line-height:18.60px;color:#2e3134;letter-spacing:0.398px;-webkit-text-stroke:0.45px #2e3134;">Dec 2024</span>
<span class="t" style="left:370.04px;top:755.20px;font-size:18.60px;line-height:18.60px;color:#2e3134;letter-spacing:0.724px;-webkit-text-stroke:0.45px #2e3134;">40</span>
<span class="t" style="left:558.29px;top:755.20px;font-size:18.60px;line-height:18.60px;color:#2e3134;letter-spacing:0.422px;-webkit-text-stroke:0.45px #2e3134;">0.19</span>
<span class="t" style="left:832.81px;top:755.20px;font-size:18.60px;line-height:18.60px;color:#2e3134;-webkit-text-stroke:0.45px #2e3134;">9</span>
<span class="t" style="left:1031.46px;top:755.20px;font-size:18.60px;line-height:18.60px;color:#2e3134;letter-spacing:0.388px;-webkit-text-stroke:0.45px #2e3134;">$100,000</span>
<div class="b" style="left:66.40px;top:264.31px;width:2.00px;height:521.48px;background:#56635c;"></div>
<div class="b" style="left:1122.80px;top:264.31px;width:2.00px;height:521.48px;background:#8d9692;"></div>
<div class="b" style="left:66.40px;top:784.40px;width:1058.40px;height:2.20px;background:#66736c;"></div>
<div class="b" style="left:67.30px;top:877.90px;width:303.70px;height:44.70px;background:#31503f;border-radius:19px 19px 0 0;"></div>
<span class="t" style="left:84.83px;top:890.65px;font-size:19.20px;line-height:19.20px;color:#f3f6f4;letter-spacing:0.024px;-webkit-text-stroke:0.8px #f3f6f4;">Team Dragon</span>
<svg class="b" style="left:218.20px;top:895.80px;" width="17" height="11" viewBox="0 0 17 11"><path d="M1.5 1.5 L8.5 8.5 L15.5 1.5" fill="none" stroke="#ffffff" stroke-width="2"/></svg>
<div class="b" style="left:251.30px;top:879.30px;width:1.40px;height:41.70px;border-left:1.4px dotted #26402f;"></div>
<div class="b" style="left:309.80px;top:879.30px;width:1.40px;height:41.70px;border-left:1.4px dotted #26402f;"></div>
<div class="b" style="left:68.00px;top:920.20px;width:303.00px;height:1.40px;border-top:1.5px dotted #223a2c;"></div>
<svg class="b" style="left:268.00px;top:886.30px;" width="26" height="25" viewBox="0 0 26 25"><path d="M2 17.5 V3.2 a1.2 1.2 0 0 1 1.2 -1.2 H18" fill="none" stroke="#e6ece8" stroke-width="1.8"/><rect x="6.2" y="6.2" width="17.6" height="16.6" rx="1.6" fill="none" stroke="#e6ece8" stroke-width="2"/><path d="M6.2 14.6 H23.8 M6.2 18.6 H23.8 M12 10.6 V22.8 M18 10.6 V22.8" stroke="#e6ece8" stroke-width="1.6" fill="none"/><rect x="6.2" y="6.2" width="17.6" height="4.6" fill="#e6ece8"/></svg>
<svg class="b" style="left:330.00px;top:887.30px;" width="20" height="24" viewBox="0 0 20 24"><path d="M11.6 1.6 L3.2 13.2 H8.6 L7 21.8 L16.2 9.6 H10.6 Z" fill="none" stroke="#e6ece8" stroke-width="2" stroke-linejoin="round"/></svg>
<div class="b" style="left:67.30px;top:920.50px;width:1057.30px;height:44.60px;background:#31503f;"></div>
<div class="b" style="left:67.30px;top:963.00px;width:1057.30px;height:2.20px;background:#243d30;"></div>
<span class="t" style="left:79.06px;top:933.76px;font-size:18.60px;line-height:18.60px;color:#f3f6f4;letter-spacing:0.826px;-webkit-text-stroke:0.7px #f3f6f4;">Month</span>
<svg class="b" style="left:180.80px;top:939.70px;" width="17" height="11" viewBox="0 0 17 11"><path d="M1.5 1.5 L8.5 8.5 L15.5 1.5" fill="none" stroke="#ffffff" stroke-width="2"/></svg>
<span class="t" style="left:225.56px;top:933.92px;font-size:18.40px;line-height:18.40px;color:#f3f6f4;letter-spacing:0.343px;-webkit-text-stroke:0.7px #f3f6f4;">New Clients</span>
<svg class="b" style="left:370.80px;top:939.70px;" width="17" height="11" viewBox="0 0 17 11"><path d="M1.5 1.5 L8.5 8.5 L15.5 1.5" fill="none" stroke="#ffffff" stroke-width="2"/></svg>
<span class="t" style="left:414.97px;top:934.09px;font-size:18.20px;line-height:18.20px;color:#f3f6f4;letter-spacing:0.317px;-webkit-text-stroke:0.7px #f3f6f4;">Conversion Rate</span>
<svg class="b" style="left:575.10px;top:939.70px;" width="17" height="11" viewBox="0 0 17 11"><path d="M1.5 1.5 L8.5 8.5 L15.5 1.5" fill="none" stroke="#ffffff" stroke-width="2"/></svg>
<span class="t" style="left:619.57px;top:934.09px;font-size:18.20px;line-height:18.20px;color:#f3f6f4;letter-spacing:0.293px;-webkit-text-stroke:0.7px #f3f6f4;">Avg Onboarding Days</span>
<svg class="b" style="left:822.70px;top:939.70px;" width="17" height="11" viewBox="0 0 17 11"><path d="M1.5 1.5 L8.5 8.5 L15.5 1.5" fill="none" stroke="#ffffff" stroke-width="2"/></svg>
<svg class="b" style="left:867.50px;top:934.50px;" width="24" height="16" viewBox="0 0 24 16"><rect x="3.6" y="1.6" width="18.6" height="10.4" rx="1.6" fill="none" stroke="#dfe7e2" stroke-width="1.7"/><path d="M1.2 4.6 V13.2 a1.2 1.2 0 0 0 1.2 1.2 H18.4" fill="none" stroke="#dfe7e2" stroke-width="1.6"/><circle cx="12.9" cy="6.8" r="2.6" fill="#dfe7e2"/></svg>
<span class="t" style="left:905.57px;top:934.09px;font-size:18.20px;line-height:18.20px;color:#f3f6f4;letter-spacing:-0.226px;-webkit-text-stroke:0.7px #f3f6f4;">Revenue</span>
<svg class="b" style="left:1091.40px;top:939.70px;" width="17" height="11" viewBox="0 0 17 11"><path d="M1.5 1.5 L8.5 8.5 L15.5 1.5" fill="none" stroke="#ffffff" stroke-width="2"/></svg>
<div class="b" style="left:68.20px;top:965.00px;width:1054.80px;height:43.46px;background:#ffffff;"></div>
<span class="t" style="left:121.64px;top:977.46px;font-size:18.60px;line-height:18.60px;color:#2e3134;letter-spacing:0.383px;-webkit-text-stroke:0.45px #2e3134;">Jan 2024</span>
<span class="t" style="left:370.04px;top:977.46px;font-size:18.60px;line-height:18.60px;color:#2e3134;letter-spacing:0.724px;-webkit-text-stroke:0.45px #2e3134;">27</span>
<span class="t" style="left:558.29px;top:977.46px;font-size:18.60px;line-height:18.60px;color:#2e3134;letter-spacing:0.422px;-webkit-text-stroke:0.45px #2e3134;">0.16</span>
<span class="t" style="left:832.81px;top:977.46px;font-size:18.60px;line-height:18.60px;color:#2e3134;-webkit-text-stroke:0.45px #2e3134;">9</span>
<span class="t" style="left:1042.17px;top:977.46px;font-size:18.60px;line-height:18.60px;color:#2e3134;letter-spacing:0.392px;-webkit-text-stroke:0.45px #2e3134;">$75,000</span>
<div class="b" style="left:68.20px;top:1008.06px;width:1054.80px;height:43.46px;background:#f0f2f4;"></div>
<span class="t" style="left:119.51px;top:1020.91px;font-size:18.60px;line-height:18.60px;color:#2e3134;letter-spacing:0.393px;-webkit-text-stroke:0.45px #2e3134;">Feb 2024</span>
<span class="t" style="left:370.04px;top:1020.91px;font-size:18.60px;line-height:18.60px;color:#2e3134;letter-spacing:0.724px;-webkit-text-stroke:0.45px #2e3134;">30</span>
<span class="t" style="left:559.72px;top:1020.91px;font-size:18.60px;line-height:18.60px;color:#2e3134;letter-spacing:0.406px;-webkit-text-stroke:0.45px #2e3134;">0.11</span>
<span class="t" style="left:832.81px;top:1020.91px;font-size:18.60px;line-height:18.60px;color:#2e3134;-webkit-text-stroke:0.45px #2e3134;">4</span>
<span class="t" style="left:1042.17px;top:1020.91px;font-size:18.60px;line-height:18.60px;color:#2e3134;letter-spacing:0.392px;-webkit-text-stroke:0.45px #2e3134;">$75,000</span>
<div class="b" style="left:68.20px;top:1051.51px;width:1054.80px;height:43.46px;background:#ffffff;"></div>
<span class="t" style="left:119.53px;top:1064.37px;font-size:18.60px;line-height:18.60px;color:#2e3134;letter-spacing:0.393px;-webkit-text-stroke:0.45px #2e3134;">Mar 2024</span>
<span class="t" style="left:370.04px;top:1064.37px;font-size:18.60px;line-height:18.60px;color:#2e3134;letter-spacing:0.724px;-webkit-text-stroke:0.45px #2e3134;">30</span>
<span class="t" style="left:558.29px;top:1064.37px;font-size:18.60px;line-height:18.60px;color:#2e3134;letter-spacing:0.422px;-webkit-text-stroke:0.45px #2e3134;">0.13</span>
<span class="t" style="left:832.81px;top:1064.37px;font-size:18.60px;line-height:18.60px;color:#2e3134;-webkit-text-stroke:0.45px #2e3134;">6</span>
<span class="t" style="left:1042.17px;top:1064.37px;font-size:18.60px;line-height:18.60px;color:#2e3134;letter-spacing:0.392px;-webkit-text-stroke:0.45px #2e3134;">$97,500</span>
<div class="b" style="left:68.20px;top:1094.97px;width:1054.80px;height:43.46px;background:#f0f2f4;"></div>
<span class="t" style="left:122.72px;top:1107.83px;font-size:18.60px;line-height:18.60px;color:#2e3134;letter-spacing:0.377px;-webkit-text-stroke:0.45px #2e3134;">Apr 2024</span>
<span class="t" style="left:370.04px;top:1107.83px;font-size:18.60px;line-height:18.60px;color:#2e3134;letter-spacing:0.724px;-webkit-text-stroke:0.45px #2e3134;">39</span>
<span class="t" style="left:558.29px;top:1107.83px;font-size:18.60px;line-height:18.60px;color:#2e3134;letter-spacing:0.422px;-webkit-text-stroke:0.45px #2e3134;">0.12</span>
<span class="t" style="left:832.81px;top:1107.83px;font-size:18.60px;line-height:18.60px;color:#2e3134;-webkit-text-stroke:0.45px #2e3134;">4</span>
<span class="t" style="left:1042.17px;top:1107.83px;font-size:18.60px;line-height:18.60px;color:#2e3134;letter-spacing:0.392px;-webkit-text-stroke:0.45px #2e3134;">$75,000</span>
<div class="b" style="left:68.20px;top:1138.43px;width:1054.80px;height:43.46px;background:#ffffff;"></div>
<span class="t" style="left:116.31px;top:1151.28px;font-size:18.60px;line-height:18.60px;color:#2e3134;letter-spacing:0.408px;-webkit-text-stroke:0.45px #2e3134;">May 2024</span>
<span class="t" style="left:370.04px;top:1151.28px;font-size:18.60px;line-height:18.60px;color:#2e3134;letter-spacing:0.724px;-webkit-text-stroke:0.45px #2e3134;">30</span>
<span class="t" style="left:569.00px;top:1151.28px;font-size:18.60px;line-height:18.60px;color:#2e3134;letter-spacing:0.452px;-webkit-text-stroke:0.45px #2e3134;">0.2</span>
<span class="t" style="left:832.81px;top:1151.28px;font-size:18.60px;line-height:18.60px;color:#2e3134;-webkit-text-stroke:0.45px #2e3134;">7</span>
<span class="t" style="left:1042.17px;top:1151.28px;font-size:18.60px;line-height:18.60px;color:#2e3134;letter-spacing:0.392px;-webkit-text-stroke:0.45px #2e3134;">$42,500</span>
<div class="b" style="left:68.20px;top:1181.89px;width:1054.80px;height:43.46px;background:#f0f2f4;"></div>
<span class="t" style="left:121.64px;top:1194.74px;font-size:18.60px;line-height:18.60px;color:#2e3134;letter-spacing:0.383px;-webkit-text-stroke:0.45px #2e3134;">Jun 2024</span>
<span class="t" style="left:370.04px;top:1194.74px;font-size:18.60px;line-height:18.60px;color:#2e3134;letter-spacing:0.724px;-webkit-text-stroke:0.45px #2e3134;">17</span>
<span class="t" style="left:558.29px;top:1194.74px;font-size:18.60px;line-height:18.60px;color:#2e3134;letter-spacing:0.422px;-webkit-text-stroke:0.45px #2e3134;">0.25</span>
<span class="t" style="left:832.81px;top:1194.74px;font-size:18.60px;line-height:18.60px;color:#2e3134;-webkit-text-stroke:0.45px #2e3134;">9</span>
<span class="t" style="left:1042.17px;top:1194.74px;font-size:18.60px;line-height:18.60px;color:#2e3134;letter-spacing:0.392px;-webkit-text-stroke:0.45px #2e3134;">$45,000</span>
<div class="b" style="left:68.20px;top:1225.34px;width:1054.80px;height:43.46px;background:#ffffff;"></div>
<span class="t" style="left:128.07px;top:1238.20px;font-size:18.60px;line-height:18.60px;color:#2e3134;letter-spacing:0.352px;-webkit-text-stroke:0.45px #2e3134;">Jul 2024</span>
<span class="t" style="left:370.04px;top:1238.20px;font-size:18.60px;line-height:18.60px;color:#2e3134;letter-spacing:0.724px;-webkit-text-stroke:0.45px #2e3134;">18</span>
<span class="t" style="left:558.29px;top:1238.20px;font-size:18.60px;line-height:18.60px;color:#2e3134;letter-spacing:0.422px;-webkit-text-stroke:0.45px #2e3134;">0.14</span>
<span class="t" style="left:832.81px;top:1238.20px;font-size:18.60px;line-height:18.60px;color:#2e3134;-webkit-text-stroke:0.45px #2e3134;">5</span>
<span class="t" style="left:1042.17px;top:1238.20px;font-size:18.60px;line-height:18.60px;color:#2e3134;letter-spacing:0.392px;-webkit-text-stroke:0.45px #2e3134;">$72,500</span>
<div class="b" style="left:68.20px;top:1268.80px;width:1054.80px;height:43.46px;background:#f0f2f4;"></div>
<span class="t" style="left:118.43px;top:1281.65px;font-size:18.60px;line-height:18.60px;color:#2e3134;letter-spacing:0.398px;-webkit-text-stroke:0.45px #2e3134;">Aug 2024</span>
<span class="t" style="left:370.04px;top:1281.65px;font-size:18.60px;line-height:18.60px;color:#2e3134;letter-spacing:0.724px;-webkit-text-stroke:0.45px #2e3134;">24</span>
<span class="t" style="left:559.72px;top:1281.65px;font-size:18.60px;line-height:18.60px;color:#2e3134;letter-spacing:0.406px;-webkit-text-stroke:0.45px #2e3134;">0.11</span>
<span class="t" style="left:832.81px;top:1281.65px;font-size:18.60px;line-height:18.60px;color:#2e3134;-webkit-text-stroke:0.45px #2e3134;">6</span>
<span class="t" style="left:1042.17px;top:1281.65px;font-size:18.60px;line-height:18.60px;color:#2e3134;letter-spacing:0.392px;-webkit-text-stroke:0.45px #2e3134;">$60,000</span>
<div class="b" style="left:68.20px;top:1312.26px;width:1054.80px;height:43.46px;background:#ffffff;"></div>
<span class="t" style="left:118.43px;top:1325.11px;font-size:18.60px;line-height:18.60px;color:#2e3134;letter-spacing:0.398px;-webkit-text-stroke:0.45px #2e3134;">Sep 2024</span>
<span class="t" style="left:370.04px;top:1325.11px;font-size:18.60px;line-height:18.60px;color:#2e3134;letter-spacing:0.724px;-webkit-text-stroke:0.45px #2e3134;">28</span>
<span class="t" style="left:558.29px;top:1325.11px;font-size:18.60px;line-height:18.60px;color:#2e3134;letter-spacing:0.422px;-webkit-text-stroke:0.45px #2e3134;">0.14</span>
<span class="t" style="left:832.81px;top:1325.11px;font-size:18.60px;line-height:18.60px;color:#2e3134;-webkit-text-stroke:0.45px #2e3134;">9</span>
<span class="t" style="left:1042.17px;top:1325.11px;font-size:18.60px;line-height:18.60px;color:#2e3134;letter-spacing:0.392px;-webkit-text-stroke:0.45px #2e3134;">$70,000</span>
<div class="b" style="left:68.20px;top:1355.71px;width:1054.80px;height:43.46px;background:#f0f2f4;"></div>
<span class="t" style="left:122.74px;top:1368.57px;font-size:18.60px;line-height:18.60px;color:#2e3134;letter-spacing:0.377px;-webkit-text-stroke:0.45px #2e3134;">Oct 2024</span>
<span class="t" style="left:370.04px;top:1368.57px;font-size:18.60px;line-height:18.60px;color:#2e3134;letter-spacing:0.724px;-webkit-text-stroke:0.45px #2e3134;">43</span>
<span class="t" style="left:558.29px;top:1368.57px;font-size:18.60px;line-height:18.60px;color:#2e3134;letter-spacing:0.422px;-webkit-text-stroke:0.45px #2e3134;">0.22</span>
<span class="t" style="left:832.81px;top:1368.57px;font-size:18.60px;line-height:18.60px;color:#2e3134;-webkit-text-stroke:0.45px #2e3134;">8</span>
<span class="t" style="left:1031.46px;top:1368.57px;font-size:18.60px;line-height:18.60px;color:#2e3134;letter-spacing:0.388px;-webkit-text-stroke:0.45px #2e3134;">$107,500</span>
<div class="b" style="left:68.20px;top:1399.17px;width:1054.80px;height:17.33px;background:#ffffff;"></div>
<span class="t" style="left:118.45px;top:1412.03px;font-size:18.60px;line-height:18.60px;color:#2e3134;letter-spacing:0.398px;-webkit-text-stroke:0.45px #2e3134;">Nov 2024</span>
<span class="t" style="left:370.04px;top:1412.03px;font-size:18.60px;line-height:18.60px;color:#2e3134;letter-spacing:0.724px;-webkit-text-stroke:0.45px #2e3134;">49</span>
<span class="t" style="left:569.00px;top:1412.03px;font-size:18.60px;line-height:18.60px;color:#2e3134;letter-spacing:0.452px;-webkit-text-stroke:0.45px #2e3134;">0.2</span>
<span class="t" style="left:832.81px;top:1412.03px;font-size:18.60px;line-height:18.60px;color:#2e3134;-webkit-text-stroke:0.45px #2e3134;">9</span>
<span class="t" style="left:1031.46px;top:1412.03px;font-size:18.60px;line-height:18.60px;color:#2e3134;letter-spacing:0.388px;-webkit-text-stroke:0.45px #2e3134;">$108,400</span>
<div class="b" style="left:66.40px;top:964.60px;width:2.00px;height:451.90px;background:#56635c;"></div>
<div class="b" style="left:1122.80px;top:964.60px;width:2.00px;height:451.90px;background:#8d9692;"></div>
<div class="b" style="left:1407.70px;top:147.90px;width:15.30px;height:1268.00px;background:#fdfdfd;"></div>
<div class="b" style="left:1409.80px;top:150.00px;width:11.20px;height:45.50px;background:#d0d2d5;border-radius:5.6px;"></div>
<div class="b" style="left:1407.70px;top:1370.00px;width:15.30px;height:1.40px;background:#dcdee1;"></div>
<div class="b" style="left:1407.70px;top:1393.00px;width:15.30px;height:1.40px;background:#dcdee1;"></div>
<svg class="b" style="left:1410.80px;top:1377.00px;" width="9" height="6" viewBox="0 0 9 6"><path d="M0.6 5.4 L4.5 0.8 L8.4 5.4 Z" fill="#b4b7ba"/></svg>
<svg class="b" style="left:1410.80px;top:1401.50px;" width="9" height="6" viewBox="0 0 9 6"><path d="M0.6 0.6 L4.5 5.2 L8.4 0.6 Z" fill="#8d9094"/></svg>
<div class="b" style="left:0.00px;top:1416.50px;width:1423.00px;height:18.50px;background:#ffffff;"></div>
<div class="b" style="left:0.00px;top:1416.50px;width:66.00px;height:18.50px;background:#f3f4f6;"></div>
<div class="b" style="left:0.00px;top:1415.60px;width:1423.00px;height:1.80px;background:#d8dadd;"></div>
<div class="b" style="left:65.10px;top:1416.50px;width:1.80px;height:18.50px;background:#d8dadd;"></div>
<div class="b" style="left:70.60px;top:1420.80px;width:415.00px;height:10.20px;background:#cdcfd2;border-radius:5.1px;"></div>
<div class="b" style="left:1360.50px;top:1416.50px;width:1.40px;height:18.50px;background:#dcdee1;"></div>
<div class="b" style="left:1384.40px;top:1416.50px;width:1.40px;height:18.50px;background:#dcdee1;"></div>
<div class="b" style="left:1407.40px;top:1416.50px;width:15.60px;height:18.50px;background:#f7f8f9;"></div>
<div class="b" style="left:1406.60px;top:1416.50px;width:1.80px;height:16.00px;background:#d4d6d9;"></div>
<svg class="b" style="left:1368.00px;top:1421.50px;" width="7" height="9" viewBox="0 0 7 9"><path d="M6.2 0.6 L1 4.5 L6.2 8.4 Z" fill="#9a9da1"/></svg>
<svg class="b" style="left:1392.50px;top:1421.50px;" width="7" height="9" viewBox="0 0 7 9"><path d="M0.8 0.6 L6 4.5 L0.8 8.4 Z" fill="#9a9da1"/></svg>
<div class="b" style="left:0.00px;top:1435.00px;width:2314.00px;height:49.00px;background:#f9fafb;"></div>
<div class="b" style="left:0.00px;top:1434.60px;width:2314.00px;height:1.80px;background:#e3e5e8;"></div>
<div class="b" style="left:194.40px;top:1436.40px;width:131.70px;height:47.60px;background:#dae5f9;"></div>
<div class="b" style="left:82.00px;top:1462.50px;width:15.60px;height:2.30px;background:#444746;"></div>
<div class="b" style="left:88.65px;top:1455.80px;width:2.30px;height:15.60px;background:#444746;"></div>
<div class="b" style="left:137.40px;top:1456.90px;width:21.00px;height:2.40px;background:#444746;"></div>
<div class="b" style="left:137.40px;top:1462.60px;width:21.00px;height:2.40px;background:#444746;"></div>
<div class="b" style="left:137.40px;top:1468.30px;width:21.00px;height:2.40px;background:#444746;"></div>
<span class="t" style="left:212.20px;top:1453.87px;font-size:20.00px;line-height:20.00px;color:#2d53b6;letter-spacing:0.402px;font-weight:700;">Sheet1</span>
<svg class="b" style="left:297.00px;top:1461.00px;" width="12" height="7" viewBox="0 0 12 7"><path d="M0 0 H12 L6 6.4 Z" fill="#2d53b6"/></svg>
<svg class="b" style="left:2273.00px;top:1456.00px;" width="16" height="20" viewBox="0 0 16 20"><path d="M11.6 3.4 L5.2 10 L11.6 16.6" fill="none" stroke="#444746" stroke-width="2.3"/></svg>
<div class="b" style="left:0.00px;top:0.00px;width:1.10px;height:1484.00px;background:#a4a6a9;"></div>
<svg class="b" style="left:0.00px;top:1470.00px;" width="14" height="14" viewBox="0 0 14 14"><path d="M0 0 V14 H14 A14 14 0 0 1 0 0 Z" fill="#3a3a3c"/></svg>
<div class="b" style="left:1464.00px;top:1.90px;width:834.60px;height:1200.00px;background:#ffffff;border:1.6px solid #e1e4e8;border-bottom:none;border-radius:26px 26px 0 0;box-sizing:border-box;"></div>
<div class="b" style="left:1465.00px;top:71.60px;width:833.00px;height:1.70px;background:#e3e5e8;"></div>
<div class="b" style="left:1464.00px;top:1182.60px;width:834.60px;height:228.20px;background:#ffffff;border:1.6px solid #e1e4e8;border-radius:27px;box-sizing:border-box;"></div>
<svg class="b" style="left:0;top:0" width="2314" height="200" viewBox="0 0 2314 200"><path d="M1502.8 25.3 Q1505.5059999999999 34.894 1515.1 37.6 Q1505.5059999999999 40.306000000000004 1502.8 49.900000000000006 Q1500.094 40.306000000000004 1490.5 37.6 Q1500.094 34.894 1502.8 25.3 Z" fill="#1d1d1f"/></svg>
<span class="t" style="left:1540.36px;top:26.02px;font-size:23.60px;line-height:23.60px;color:#1f1f1f;letter-spacing:0.049px;-webkit-text-stroke:0.35px #1f1f1f;">Gemini</span>
<svg class="b" style="left:1626.60px;top:34.60px;" width="13" height="7" viewBox="0 0 13 7"><path d="M0 0 H13 L6.5 6.8 Z" fill="#303134"/></svg>
<div class="b" style="left:2167.70px;top:27.50px;width:4.60px;height:4.60px;background:#1f1f1f;border-radius:50%;"></div>
<div class="b" style="left:2167.70px;top:35.40px;width:4.60px;height:4.60px;background:#1f1f1f;border-radius:50%;"></div>
<div class="b" style="left:2167.70px;top:43.30px;width:4.60px;height:4.60px;background:#1f1f1f;border-radius:50%;"></div>
<svg class="b" style="left:2204.00px;top:26.00px;" width="24" height="24" viewBox="0 0 24 24"><path d="M3.6 14.4 H9.4 V20.2 M20.6 9.6 H14.8 V3.8" fill="none" stroke="#1f1f1f" stroke-width="2.2"/></svg>
<svg class="b" style="left:2252.00px;top:27.00px;" width="22" height="22" viewBox="0 0 22 22"><path d="M3.4 3.4 L18.6 18.6 M18.6 3.4 L3.4 18.6" stroke="#1f1f1f" stroke-width="2.4" fill="none"/></svg>
<svg class="b" style="left:0;top:0" width="2314" height="200" viewBox="0 0 2314 200"><path d="M1511.7 81.2 Q1515.788 91.712 1526.3 95.8 Q1515.788 99.88799999999999 1511.7 110.39999999999999 Q1507.612 99.88799999999999 1497.1000000000001 95.8 Q1507.612 91.712 1511.7 81.2 Z" fill="#2f60e6"/></svg>
<svg class="b" style="left:1500.00px;top:138.00px;" width="18" height="12" viewBox="0 0 18 12"><path d="M2 2.4 L9 9.6 L16 2.4" fill="none" stroke="#36569d" stroke-width="2.2"/></svg>
<span class="t" style="left:1535.11px;top:135.36px;font-size:17.30px;line-height:17.30px;color:#36569d;letter-spacing:0.386px;-webkit-text-stroke:0.65px #36569d;">Analysis steps</span>
<div class="b" style="left:1494.40px;top:178.80px;width:773.80px;height:611.20px;background:#ecf0f5;border-radius:13px;"></div>
<span class="t" style="left:2053.82px;top:209.41px;font-size:19.60px;line-height:19.60px;color:#1f1f1f;letter-spacing:0.458px;-webkit-text-stroke:0.35px #1f1f1f;">Interactive</span>
<svg class="b" style="left:2157.00px;top:208.00px;" width="22" height="22" viewBox="0 0 22 22"><circle cx="11.2" cy="11" r="9" fill="none" stroke="#3c4043" stroke-width="1.9"/><path d="M11.2 10 V16" stroke="#3c4043" stroke-width="2"/><circle cx="11.2" cy="6.8" r="1.25" fill="#3c4043"/></svg>
<div class="b" style="left:2197.60px;top:205.00px;width:47.80px;height:28.20px;background:#2a4cb8;border-radius:14.1px;"></div>
<div class="b" style="left:2221.00px;top:208.30px;width:21.60px;height:21.60px;background:#ffffff;border-radius:50%;"></div>
<div class="b" style="left:2281.20px;top:185.00px;width:9.60px;height:813.50px;background:#cfd1d4;border-radius:4.8px;"></div>
<svg class="b" style="left:0;top:0" width="2314" height="800" viewBox="0 0 2314 800"><path d="M1653.8 507.4 H2221.5" stroke="#bbbec2" stroke-width="1.45"/><path d="M1653.8 463.7 H2221.5" stroke="#bbbec2" stroke-width="1.45"/><path d="M1653.8 420.1 H2221.5" stroke="#bbbec2" stroke-width="1.45"/><path d="M1653.8 376.4 H2221.5" stroke="#bbbec2" stroke-width="1.45"/><path d="M1653.8 332.8 H2221.5" stroke="#bbbec2" stroke-width="1.45"/><path d="M1653.8 320.5 V551" stroke="#bbbec2" stroke-width="1.45"/><path d="M1750.9 320.5 V551" stroke="#bbbec2" stroke-width="1.45"/><path d="M1850.6 320.5 V551" stroke="#bbbec2" stroke-width="1.45"/><path d="M1950.4 320.5 V551" stroke="#bbbec2" stroke-width="1.45"/><path d="M2051.7 320.5 V551" stroke="#bbbec2" stroke-width="1.45"/><path d="M2152.1 320.5 V551" stroke="#bbbec2" stroke-width="1.45"/><path d="M1653.0 551 H2222.0" stroke="#5a5d61" stroke-width="2.1"/><polyline points="1653.8,332.8 1705.3,387.6 1752.6,441.9 1805.3,354.6 1855.5,463.7 1908.3,337.2 1959.2,437.5 2012.1,341.5 2064.2,441.9 2117.0,411.4 2168.7,407.0 2221.5,376.4" fill="none" stroke="#4371d6" stroke-width="2.7" stroke-linejoin="miter"/><polyline points="1653.8,420.1 1705.3,420.1 1752.6,380.8 1805.3,420.1 1855.5,476.8 1908.3,472.4 1959.2,424.4 2012.1,446.3 2064.2,428.8 2117.0,363.3 2168.7,361.1 2221.5,370.2" fill="none" stroke="#b8433c" stroke-width="2.7" stroke-linejoin="miter"/><polyline points="1653.8,381.7 1705.3,376.4 1752.6,446.3 1805.3,472.4 1855.5,428.8 1908.3,494.3 1959.2,393.9 2012.1,494.3 2064.2,494.3 2117.0,437.5 2168.7,428.8 2221.5,463.7" fill="none" stroke="#e9ae40" stroke-width="2.7" stroke-linejoin="miter"/></svg>
<span class="t" style="left:1541.73px;top:272.55px;font-size:21.80px;line-height:21.80px;color:#2b2d30;letter-spacing:0.343px;">Revenue Trend Over Time by Team</span>
<span class="t" style="left:1633.77px;top:543.02px;font-size:16.40px;line-height:16.40px;color:#686b70;">0</span>
<span class="t" style="left:1595.23px;top:499.38px;font-size:16.40px;line-height:16.40px;color:#686b70;letter-spacing:0.513px;">25000</span>
<span class="t" style="left:1595.23px;top:455.74px;font-size:16.40px;line-height:16.40px;color:#686b70;letter-spacing:0.513px;">50000</span>
<span class="t" style="left:1595.23px;top:412.10px;font-size:16.40px;line-height:16.40px;color:#686b70;letter-spacing:0.513px;">75000</span>
<span class="t" style="left:1585.70px;top:368.46px;font-size:16.40px;line-height:16.40px;color:#686b70;letter-spacing:0.493px;">100000</span>
<span class="t" style="left:1585.70px;top:324.82px;font-size:16.40px;line-height:16.40px;color:#686b70;letter-spacing:0.493px;">125000</span>
<span class="t" style="left:1570.31px;top:556.01px;font-size:17.00px;line-height:17.00px;color:#66696e;letter-spacing:0.657px;-webkit-text-stroke:0.2px #66696e;transform:rotate(-45deg);transform-origin:100% 84.65%;">01/01/2024</span>
<span class="t" style="left:1667.41px;top:556.01px;font-size:17.00px;line-height:17.00px;color:#66696e;letter-spacing:0.657px;-webkit-text-stroke:0.2px #66696e;transform:rotate(-45deg);transform-origin:100% 84.65%;">01/03/2024</span>
<span class="t" style="left:1767.11px;top:556.01px;font-size:17.00px;line-height:17.00px;color:#66696e;letter-spacing:0.657px;-webkit-text-stroke:0.2px #66696e;transform:rotate(-45deg);transform-origin:100% 84.65%;">01/05/2024</span>
<span class="t" style="left:1866.91px;top:556.01px;font-size:17.00px;line-height:17.00px;color:#66696e;letter-spacing:0.657px;-webkit-text-stroke:0.2px #66696e;transform:rotate(-45deg);transform-origin:100% 84.65%;">01/07/2024</span>
<span class="t" style="left:1968.21px;top:556.01px;font-size:17.00px;line-height:17.00px;color:#66696e;letter-spacing:0.657px;-webkit-text-stroke:0.2px #66696e;transform:rotate(-45deg);transform-origin:100% 84.65%;">01/09/2024</span>
<span class="t" style="left:2068.61px;top:556.01px;font-size:17.00px;line-height:17.00px;color:#66696e;letter-spacing:0.797px;-webkit-text-stroke:0.2px #66696e;transform:rotate(-45deg);transform-origin:100% 84.65%;">01/11/2024</span>
<span class="t" style="left:1522.95px;top:458.12px;font-size:16.40px;line-height:16.40px;color:#2b2d30;letter-spacing:-0.192px;-webkit-text-stroke:0.2px #2b2d30;transform:rotate(-90deg);transform-origin:50% 84.65%;">Revenue</span>
<span class="t" style="left:1912.14px;top:657.55px;font-size:16.60px;line-height:16.60px;color:#2b2d30;letter-spacing:0.816px;-webkit-text-stroke:0.3px #2b2d30;">Month</span>
<div class="b" style="left:1733.40px;top:697.30px;width:17.40px;height:5.40px;background:#3f6fe0;"></div>
<span class="t" style="left:1762.14px;top:690.52px;font-size:16.40px;line-height:16.40px;color:#5c5f64;letter-spacing:0.348px;-webkit-text-stroke:0.25px #5c5f64;">Unicorn</span>
<div class="b" style="left:1845.00px;top:697.30px;width:17.80px;height:5.40px;background:#b8433c;"></div>
<span class="t" style="left:1873.84px;top:690.52px;font-size:16.40px;line-height:16.40px;color:#5c5f64;letter-spacing:0.162px;-webkit-text-stroke:0.25px #5c5f64;">Dragon</span>
<div class="b" style="left:1952.60px;top:697.30px;width:18.40px;height:5.40px;background:#e9ae40;"></div>
<span class="t" style="left:1981.54px;top:690.52px;font-size:16.40px;line-height:16.40px;color:#5c5f64;letter-spacing:0.526px;-webkit-text-stroke:0.25px #5c5f64;">Griffin</span>
<svg class="b" style="left:1516.50px;top:751.00px;" width="18" height="18" viewBox="0 0 18 18"><path d="M2.4 16.2 V2.4 H16 M2.8 2.8 L16.6 16.6" fill="none" stroke="#303134" stroke-width="2.3"/></svg>
<span class="t" style="left:1548.12px;top:752.21px;font-size:17.00px;line-height:17.00px;color:#3c4043;letter-spacing:0.937px;-webkit-text-stroke:0.72px #3c4043;">Insert</span>
<svg class="b" style="left:1620.00px;top:749.50px;" width="28" height="21" viewBox="0 0 28 21"><path d="M1.6 10.5 C5.2 3.4 10 1.6 14 1.6 C18 1.6 22.8 3.4 26.4 10.5 C22.8 17.6 18 19.4 14 19.4 C10 19.4 5.2 17.6 1.6 10.5 Z" fill="none" stroke="#303134" stroke-width="2"/><circle cx="14" cy="10.5" r="4.3" fill="none" stroke="#303134" stroke-width="2"/></svg>
<span class="t" style="left:1656.32px;top:752.21px;font-size:17.00px;line-height:17.00px;color:#3c4043;letter-spacing:0.489px;-webkit-text-stroke:0.72px #3c4043;">Preview</span>
<div class="b" style="left:1753.70px;top:750.50px;width:4.40px;height:4.40px;background:#303134;border-radius:50%;"></div>
<div class="b" style="left:1753.70px;top:758.70px;width:4.40px;height:4.40px;background:#303134;border-radius:50%;"></div>
<div class="b" style="left:1753.70px;top:766.90px;width:4.40px;height:4.40px;background:#303134;border-radius:50%;"></div>
<div class="b" style="left:1494.40px;top:807.40px;width:773.80px;height:219.80px;background:#ecf0f5;border-radius:13px;"></div>
<span class="t" style="left:1516.80px;top:837.95px;font-size:19.90px;line-height:19.90px;color:#232528;letter-spacing:0.397px;-webkit-text-stroke:0.3px #232528;">Here is the chart displaying the revenue trend over time for all three teams.</span>
<span class="t" style="left:1516.80px;top:907.85px;font-size:19.90px;line-height:19.90px;color:#232528;letter-spacing:0.339px;-webkit-text-stroke:0.3px #232528;">This chart illustrates how the revenue generated by Team Unicorn, Team</span>
<span class="t" style="left:1516.80px;top:942.95px;font-size:19.90px;line-height:19.90px;color:#232528;letter-spacing:0.350px;-webkit-text-stroke:0.3px #232528;">Dragon, and Team Griffin has changed each month.</span>
<svg class="b" style="left:1516.80px;top:989.20px;" width="18" height="18" viewBox="0 0 18 18"><path d="M2.4 16.2 V2.4 H16 M2.8 2.8 L16.6 16.6" fill="none" stroke="#303134" stroke-width="2.3"/></svg>
<span class="t" style="left:1548.12px;top:990.81px;font-size:17.00px;line-height:17.00px;color:#3c4043;letter-spacing:0.937px;-webkit-text-stroke:0.72px #3c4043;">Insert</span>
<svg class="b" style="left:1622.00px;top:986.50px;" width="24" height="26" viewBox="0 0 24 26"><rect x="6.6" y="1.8" width="14.6" height="17.6" rx="1.8" fill="none" stroke="#303134" stroke-width="2"/><path d="M2.2 6.6 V22.2 a1.6 1.6 0 0 0 1.6 1.6 H16.6" fill="none" stroke="#303134" stroke-width="2"/></svg>
<span class="t" style="left:1656.92px;top:990.81px;font-size:17.00px;line-height:17.00px;color:#3c4043;letter-spacing:0.571px;-webkit-text-stroke:0.72px #3c4043;">Copy</span>
<svg class="b" style="left:1493.00px;top:1058.50px;" width="17" height="12" viewBox="0 0 17 12"><path d="M2 2.4 L8.3 8.8 L14.6 2.4" fill="none" stroke="#36569d" stroke-width="2.2"/></svg>
<span class="t" style="left:1525.92px;top:1056.01px;font-size:17.00px;line-height:17.00px;color:#36569d;letter-spacing:0.393px;-webkit-text-stroke:0.7px #36569d;">Sources (3)</span>
<svg class="b" style="left:1490.80px;top:1097.00px;" width="24" height="27" viewBox="0 0 24 27"><path d="M3 2.4 H13.6 L20.6 9.4 V23 a1.6 1.6 0 0 1 -1.6 1.6 H4.6 a1.6 1.6 0 0 1 -1.6 -1.6 Z" fill="none" stroke="#303134" stroke-width="2"/><path d="M13.2 2.6 V9.8 H20.4" fill="none" stroke="#303134" stroke-width="1.8"/><path d="M7.2 14.4 H16 M7.2 17.6 H16 M7.2 20.8 H12.6" stroke="#303134" stroke-width="2.1"/></svg>
<span class="t" style="left:1525.20px;top:1101.87px;font-size:17.40px;line-height:17.40px;color:#3c4043;letter-spacing:0.561px;-webkit-text-stroke:0.72px #3c4043;">Export to Docs</span>
<svg class="b" style="left:1676.80px;top:1100.40px;" width="18" height="18" viewBox="0 0 18 18"><path d="M2.4 16.2 V2.4 H16 M2.8 2.8 L16.6 16.6" fill="none" stroke="#303134" stroke-width="2.3"/></svg>
<span class="t" style="left:1707.52px;top:1102.21px;font-size:17.00px;line-height:17.00px;color:#3c4043;letter-spacing:0.897px;-webkit-text-stroke:0.72px #3c4043;">Insert</span>
<div class="b" style="left:1788.80px;top:1100.40px;width:4.40px;height:4.40px;background:#303134;border-radius:50%;"></div>
<div class="b" style="left:1788.80px;top:1108.20px;width:4.40px;height:4.40px;background:#303134;border-radius:50%;"></div>
<div class="b" style="left:1788.80px;top:1116.00px;width:4.40px;height:4.40px;background:#303134;border-radius:50%;"></div>
<svg class="b" style="left:2185.00px;top:1097.00px;" width="30" height="26" viewBox="0 0 30 26"><path d="M2.5 9.7 H8.9 V23.1 H2.5 Z M8.9 9.7 L15.5 2.4 Q16.9 1.5 17 3.2 L15.7 9.6 H24.4 Q26.7 9.8 26.2 12.3 L22.8 21.4 Q22 23.1 20.2 23.1 H8.9" fill="none" stroke="#303134" stroke-width="2.2" stroke-linejoin="round"/></svg>
<svg class="b" style="left:2237.00px;top:1098.00px;" width="30" height="27" viewBox="0 0 30 27"><g transform="translate(-0.9 0.85) rotate(180 14.6 12.3)"><path d="M2.5 9.7 H8.9 V23.1 H2.5 Z M8.9 9.7 L15.5 2.4 Q16.9 1.5 17 3.2 L15.7 9.6 H24.4 Q26.7 9.8 26.2 12.3 L22.8 21.4 Q22 23.1 20.2 23.1 H8.9" fill="none" stroke="#303134" stroke-width="2.2" stroke-linejoin="round"/></g></svg>
<div class="b" style="left:1492.60px;top:1206.20px;width:777.60px;height:136.00px;background:#ffffff;border:2.1px solid #84878b;border-radius:26px;box-sizing:border-box;"></div>
<span class="t" style="left:1517.71px;top:1231.81px;font-size:22.20px;line-height:22.20px;color:#54575b;letter-spacing:0.587px;-webkit-text-stroke:0.4px #54575b;">Enter a prompt here</span>
<div class="b" style="left:1517.40px;top:1277.80px;width:199.20px;height:45.60px;background:#ffffff;border:2px solid #cdd0d3;border-radius:9px;box-sizing:border-box;"></div>
<svg class="b" style="left:1532.50px;top:1288.00px;" width="24" height="25" viewBox="0 0 24 25"><path d="M5.4 2 H18.6 M3.8 5.8 H20.2" stroke="#303134" stroke-width="2" fill="none"/><rect x="2.6" y="9.4" width="18.8" height="13.2" rx="2" fill="none" stroke="#303134" stroke-width="2.1"/><path d="M2.6 14 H8.4 V16.4 H15.6 V14 H21.4" fill="none" stroke="#303134" stroke-width="1.9"/></svg>
<span class="t" style="left:1570.81px;top:1289.84px;font-size:19.80px;line-height:19.80px;color:#1f1f1f;letter-spacing:0.545px;-webkit-text-stroke:0.7px #1f1f1f;">3 sources</span>
<svg class="b" style="left:1683.60px;top:1298.00px;" width="12" height="6.4" viewBox="0 0 12 6.4"><path d="M0 0 H12 L6 6 Z" fill="#303134"/></svg>
<svg class="b" style="left:1680.00px;top:1300.00px;filter:drop-shadow(0.5px 1.5px 1.2px rgba(0,0,0,.3));" width="50" height="52" viewBox="0 0 50 52"><path d="M17.2 26.4 L14.8 9.1 C14.6 4 21.6 4 21.8 9.1 L23.9 17.7 C25 14.5 30 14.5 30.7 17.7 C32 15 37.5 15 38.5 18.8 C40 17.5 45.5 17.5 45.5 22 L45.2 28.5 C44.5 36 41 42 39.3 46 L36.1 46.8 L32.6 42.8 L28.5 46.8 L22.6 46.8 L8 27.4 C6.2 24.5 8 21 10.2 21.2 C12.5 21.5 15 24.5 17.2 26.4 Z" fill="#ffffff" stroke="#1c1d1f" stroke-width="2.3" stroke-linejoin="round"/><path d="M25.7 28.5 L25.9 38.2 M31.1 28.5 L31.3 38.2 M36.5 28.5 L36.7 38.2" stroke="#1c1d1f" stroke-width="1.9"/><path d="M24 17.6 L24.4 21.6 M30.8 17.4 L31 21.2 M38.6 18.6 L38.7 21" stroke="#1c1d1f" stroke-width="2"/></svg>
<span class="t" style="left:1569.15px;top:1367.29px;font-size:16.20px;line-height:16.20px;color:#5f6368;letter-spacing:0.376px;-webkit-text-stroke:0.25px #5f6368;">Gemini in Workspace can make mistakes, so double-check responses.</span>
<span class="t" style="left:2106.15px;top:1367.29px;font-size:16.20px;line-height:16.20px;color:#3c4043;letter-spacing:0.395px;-webkit-text-stroke:0.5px #3c4043;">Learn more</span>
<div class="b" style="left:2106.60px;top:1384.60px;width:87.00px;height:1.80px;background:#3c4043;"></div>
</div></body></html>
